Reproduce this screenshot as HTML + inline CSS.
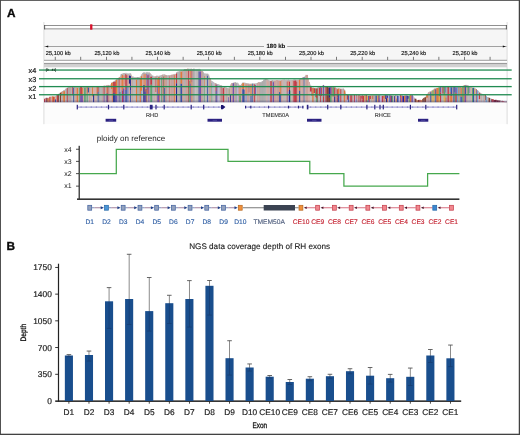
<!DOCTYPE html>
<html lang="en"><head><meta charset="utf-8"><title>Figure</title>
<style>html,body{margin:0;padding:0;background:#fff;}svg{display:block;will-change:transform;}text{font-family:"Liberation Sans",sans-serif;text-rendering:geometricPrecision;}</style></head><body>
<svg width="520" height="435" viewBox="0 0 520 435">
<rect x="0" y="0" width="520" height="435" fill="#ffffff"/>
<rect x="44.0" y="29" width="463.0" height="31" fill="#f6f6f6"/>
<rect x="44.0" y="102.4" width="463.0" height="21.8" fill="#fcfcfc"/>
<rect x="43.4" y="22" width="1" height="102.2" fill="#dcdcdc"/>
<rect x="506.6" y="22" width="1" height="102.2" fill="#dcdcdc"/>
<rect x="44.2" y="25" width="462.6" height="4.2" fill="#ffffff"/>
<rect x="44.2" y="25.05" width="462.6" height="0.85" fill="#7c7c7c"/>
<rect x="44.2" y="28.3" width="462.6" height="1.1" fill="#9a9a9a"/>
<rect x="44.2" y="25.05" width="0.9" height="4.3" fill="#4a4a4a"/>
<rect x="505.9" y="25.05" width="0.9" height="4.3" fill="#4a4a4a"/>
<rect x="90.1" y="24.3" width="2.3" height="5.4" fill="#d8102a"/>
<rect x="44.5" y="46.15" width="462.0" height="0.6" fill="#6a6a6a"/>
<path d="M45.3 46.45 l2.9 -1 v2z" fill="#111"/>
<path d="M505.7 46.45 l-2.9 -1 v2z" fill="#111"/>
<rect x="264" y="43" width="23.2" height="7" fill="#f6f6f6"/>
<text x="275.8" y="48.1" font-size="6" font-weight="bold" text-anchor="middle" fill="#111" stroke="#111" stroke-width="0.1">180 kb</text>
<rect x="54.85" y="56.8" width="0.7" height="3.2" fill="#444"/>
<rect x="80.43" y="56.8" width="0.7" height="3.2" fill="#444"/>
<rect x="106.01" y="56.8" width="0.7" height="3.2" fill="#444"/>
<rect x="131.59" y="56.8" width="0.7" height="3.2" fill="#444"/>
<rect x="157.17" y="56.8" width="0.7" height="3.2" fill="#444"/>
<rect x="182.75" y="56.8" width="0.7" height="3.2" fill="#444"/>
<rect x="208.33" y="56.8" width="0.7" height="3.2" fill="#444"/>
<rect x="233.91" y="56.8" width="0.7" height="3.2" fill="#444"/>
<rect x="259.49" y="56.8" width="0.7" height="3.2" fill="#444"/>
<rect x="285.07" y="56.8" width="0.7" height="3.2" fill="#444"/>
<rect x="310.65" y="56.8" width="0.7" height="3.2" fill="#444"/>
<rect x="336.23" y="56.8" width="0.7" height="3.2" fill="#444"/>
<rect x="361.81" y="56.8" width="0.7" height="3.2" fill="#444"/>
<rect x="387.39" y="56.8" width="0.7" height="3.2" fill="#444"/>
<rect x="412.97" y="56.8" width="0.7" height="3.2" fill="#444"/>
<rect x="438.55" y="56.8" width="0.7" height="3.2" fill="#444"/>
<rect x="464.13" y="56.8" width="0.7" height="3.2" fill="#444"/>
<rect x="489.71" y="56.8" width="0.7" height="3.2" fill="#444"/>
<text x="45.8" y="54.7" font-size="5.7" fill="#1a1a1a" stroke="#1a1a1a" stroke-width="0.16">25,100 kb</text>
<text x="94.4" y="54.7" font-size="5.7" fill="#1a1a1a" stroke="#1a1a1a" stroke-width="0.16">25,120 kb</text>
<text x="145.5" y="54.7" font-size="5.7" fill="#1a1a1a" stroke="#1a1a1a" stroke-width="0.16">25,140 kb</text>
<text x="196.7" y="54.7" font-size="5.7" fill="#1a1a1a" stroke="#1a1a1a" stroke-width="0.16">25,160 kb</text>
<text x="247.8" y="54.7" font-size="5.7" fill="#1a1a1a" stroke="#1a1a1a" stroke-width="0.16">25,180 kb</text>
<text x="299.0" y="54.7" font-size="5.7" fill="#1a1a1a" stroke="#1a1a1a" stroke-width="0.16">25,200 kb</text>
<text x="350.2" y="54.7" font-size="5.7" fill="#1a1a1a" stroke="#1a1a1a" stroke-width="0.16">25,220 kb</text>
<text x="401.3" y="54.7" font-size="5.7" fill="#1a1a1a" stroke="#1a1a1a" stroke-width="0.16">25,240 kb</text>
<text x="452.5" y="54.7" font-size="5.7" fill="#1a1a1a" stroke="#1a1a1a" stroke-width="0.16">25,260 kb</text>
<rect x="44.0" y="59.85" width="463.0" height="1" fill="#7c7c7c"/>
<rect x="44.0" y="60.7" width="463.0" height="2.2" fill="#ffffff"/>
<rect x="44.0" y="62.9" width="463.0" height="1.6" fill="#9c9c9c"/>
<rect x="44.0" y="64.5" width="463.0" height="2.8" fill="#d2d2d2"/>
<defs><filter id="cb" x="-2%" y="-10%" width="104%" height="120%"><feGaussianBlur stdDeviation="0.45 0.35"/></filter><clipPath id="cc"><rect x="44.0" y="66" width="463.0" height="36.400000000000006"/></clipPath></defs>
<g clip-path="url(#cc)"><g filter="url(#cb)">
<polygon points="44.0,102.4 44,98.6 48,98.2 50,97 55,96.6 57,95.1 60,92.8 63,91.1 66,88.8 68,87.2 80,86.9 95,86.7 100,86.2 110,85.3 112,82.5 113,82 117,79 120,77.3 121,74.2 124,73 127,73.6 131,73.8 132,76.5 134,77.3 140,77.3 142,74 143,72.8 147,72.4 150,72.8 152,75.5 154,76.7 160,75.6 164,74.6 167,75.5 172,75 175,74.4 177,72.2 179,71.2 183,70.6 184,69.3 190,68.8 195,69.2 200,69.3 201,71 203,71.6 204,73.6 208,74 209,75.6 210,78 211,80.3 214,82.5 216,83.6 220,85 224,86.6 226,87.8 228,88.5 230,87.6 231,83.5 234,82.5 238,82.8 239,85.3 241,85 242,83 246,83.2 250,83.7 256,83.4 258,82.5 262,82.2 263,80.7 265,79.3 266,78.5 267,79.5 270,80.7 280,80.3 290,80 299,80 300,78.6 303,77.6 305,76.4 306,75 307.5,74.8 308,77 309,81.3 310,83.6 311,86.5 312,88 317,88.2 318,87.2 322,86.6 323,84.9 324,85.2 325,87 335,87.2 337,88.6 344,88.9 345,90.5 346,94 347,95.3 370,95.5 390,95.6 400,95.7 413,95.7 414,97.5 416,99.6 419,100.4 422,100 423,98.5 425,97.3 427,95 428,92.8 431,91 433,90.2 434,88.8 437,88 440,87 447,86.5 455,86.6 462,86.8 464,85.4 466,84.8 468,85.6 470,86.6 472,87.6 475,88.5 477,90 479,91.5 480,92.8 482,94 485,94.8 486,96.5 488,97.2 490,98.6 493,99.2 495,100 499,100.2 501,100.9 503,101.4 507,101.9 507.0,102.4" fill="#b9b5b5"/>
<rect x="44.0" y="98.9" width="1.05" height="3.5" fill="#c53a44"/>
<rect x="45.0" y="98.2" width="0.75" height="4.2" fill="#c0bbba"/>
<rect x="45.7" y="97.8" width="0.85" height="4.6" fill="#c53a44"/>
<rect x="46.5" y="97.8" width="1.05" height="4.6" fill="#7c2336"/>
<rect x="47.5" y="98.5" width="1.25" height="3.9" fill="#e17a3c"/>
<rect x="48.7" y="97.6" width="0.75" height="4.8" fill="#e17a3c"/>
<rect x="49.4" y="96.7" width="1.25" height="5.7" fill="#c53a44"/>
<rect x="50.6" y="96.5" width="1.45" height="5.9" fill="#d0a8a2"/>
<rect x="52.0" y="96.3" width="1.25" height="6.1" fill="#e17a3c"/>
<rect x="53.2" y="96.6" width="1.05" height="5.8" fill="#c53a44"/>
<rect x="54.2" y="96.8" width="0.85" height="5.6" fill="#e17a3c"/>
<rect x="55.0" y="96.4" width="1.05" height="3.0" fill="#dcaea6"/>
<rect x="55.0" y="99.4" width="1.05" height="3.0" fill="#3c52a6"/>
<rect x="56.0" y="96.0" width="0.75" height="6.4" fill="#c0bbba"/>
<rect x="56.7" y="95.1" width="1.25" height="7.3" fill="#c53a44"/>
<rect x="57.9" y="94.0" width="1.05" height="8.4" fill="#85402e"/>
<rect x="58.9" y="93.4" width="1.05" height="9.0" fill="#c4c0c0"/>
<rect x="59.9" y="92.5" width="1.45" height="0.4" fill="#adaaab"/>
<rect x="59.9" y="92.9" width="1.45" height="9.5" fill="#85402e"/>
<rect x="61.3" y="91.6" width="1.05" height="0.5" fill="#c4c0c0"/>
<rect x="61.3" y="92.0" width="1.05" height="3.4" fill="#e17a3c"/>
<rect x="61.3" y="95.5" width="1.05" height="6.9" fill="#c6c2c2"/>
<rect x="62.3" y="91.0" width="1.05" height="11.4" fill="#c69e9b"/>
<rect x="63.3" y="90.2" width="1.75" height="1.0" fill="#b7b4b4"/>
<rect x="63.3" y="91.2" width="1.75" height="11.2" fill="#e17a3c"/>
<rect x="65.0" y="88.7" width="0.85" height="13.7" fill="#bdb9b9"/>
<rect x="65.8" y="88.8" width="1.05" height="13.6" fill="#b3b0b0"/>
<rect x="66.8" y="87.7" width="1.05" height="0.3" fill="#c0bbba"/>
<rect x="66.8" y="88.0" width="1.05" height="14.4" fill="#c53a44"/>
<rect x="67.8" y="87.3" width="1.45" height="15.1" fill="#adaaab"/>
<rect x="69.2" y="87.1" width="1.75" height="15.3" fill="#c69e9b"/>
<rect x="70.9" y="86.9" width="1.45" height="15.5" fill="#b7b4b4"/>
<rect x="72.3" y="86.6" width="0.85" height="0.1" fill="#c0bbba"/>
<rect x="72.3" y="86.7" width="0.85" height="8.6" fill="#c53a44"/>
<rect x="72.3" y="95.3" width="0.85" height="7.1" fill="#c6c2c2"/>
<rect x="73.1" y="87.1" width="0.85" height="0.6" fill="#bdb9b9"/>
<rect x="73.1" y="87.7" width="0.85" height="14.7" fill="#3c52a6"/>
<rect x="73.9" y="86.9" width="1.05" height="15.5" fill="#adaaab"/>
<rect x="74.9" y="87.2" width="1.05" height="15.2" fill="#d0a8a2"/>
<rect x="75.9" y="87.4" width="0.85" height="15.0" fill="#d0a8a2"/>
<rect x="76.7" y="86.9" width="1.75" height="0.9" fill="#c4c0c0"/>
<rect x="76.7" y="87.8" width="1.75" height="14.6" fill="#e17a3c"/>
<rect x="78.4" y="86.7" width="0.85" height="15.7" fill="#c0bbba"/>
<rect x="79.2" y="87.0" width="1.05" height="0.8" fill="#b3b0b0"/>
<rect x="79.2" y="87.8" width="1.05" height="14.6" fill="#5fa470"/>
<rect x="80.2" y="86.7" width="1.75" height="0.2" fill="#adaaab"/>
<rect x="80.2" y="86.9" width="1.75" height="8.9" fill="#c53a44"/>
<rect x="80.2" y="95.8" width="1.75" height="6.6" fill="#7752ad"/>
<rect x="81.9" y="86.7" width="1.05" height="1.0" fill="#c4c0c0"/>
<rect x="81.9" y="87.7" width="1.05" height="7.2" fill="#e17a3c"/>
<rect x="81.9" y="95.0" width="1.05" height="7.4" fill="#7752ad"/>
<rect x="82.9" y="87.1" width="1.25" height="15.3" fill="#d0a8a2"/>
<rect x="84.1" y="86.9" width="1.75" height="0.8" fill="#b7b4b4"/>
<rect x="84.1" y="87.7" width="1.75" height="14.7" fill="#5fa470"/>
<rect x="85.8" y="87.0" width="1.05" height="15.4" fill="#adaaab"/>
<rect x="86.8" y="86.7" width="1.05" height="0.1" fill="#b3b0b0"/>
<rect x="86.8" y="86.8" width="1.05" height="8.5" fill="#e17a3c"/>
<rect x="86.8" y="95.3" width="1.05" height="7.1" fill="#5fa470"/>
<rect x="87.8" y="87.2" width="1.25" height="0.4" fill="#b3b0b0"/>
<rect x="87.8" y="87.6" width="1.25" height="5.1" fill="#3c52a6"/>
<rect x="87.8" y="92.6" width="1.25" height="9.8" fill="#bdb9b9"/>
<rect x="89.0" y="87.2" width="1.45" height="15.2" fill="#cd9f98"/>
<rect x="90.4" y="86.4" width="0.75" height="16.0" fill="#c0bbba"/>
<rect x="91.1" y="86.4" width="1.05" height="16.0" fill="#d4b0ab"/>
<rect x="92.1" y="86.8" width="1.05" height="0.5" fill="#c0bbba"/>
<rect x="92.1" y="87.3" width="1.05" height="9.2" fill="#e17a3c"/>
<rect x="92.1" y="96.5" width="1.05" height="5.9" fill="#c6c2c2"/>
<rect x="93.1" y="86.1" width="1.25" height="0.2" fill="#adaaab"/>
<rect x="93.1" y="86.3" width="1.25" height="7.9" fill="#dcaea6"/>
<rect x="93.1" y="94.2" width="1.25" height="8.2" fill="#27288f"/>
<rect x="94.3" y="86.2" width="1.75" height="16.2" fill="#d4b0ab"/>
<rect x="96.0" y="86.8" width="0.75" height="15.6" fill="#d0a8a2"/>
<rect x="96.7" y="86.2" width="1.05" height="0.6" fill="#c4c0c0"/>
<rect x="96.7" y="86.8" width="1.05" height="9.0" fill="#e17a3c"/>
<rect x="96.7" y="95.9" width="1.05" height="6.5" fill="#c6c2c2"/>
<rect x="97.7" y="86.7" width="1.05" height="0.2" fill="#b7b4b4"/>
<rect x="97.7" y="87.0" width="1.05" height="5.1" fill="#c53a44"/>
<rect x="97.7" y="92.0" width="1.05" height="10.4" fill="#3c52a6"/>
<rect x="98.7" y="86.0" width="1.45" height="16.4" fill="#adaaab"/>
<rect x="100.1" y="86.2" width="1.45" height="16.2" fill="#b7b4b4"/>
<rect x="101.5" y="86.2" width="0.85" height="16.2" fill="#b3b0b0"/>
<rect x="102.3" y="86.2" width="1.45" height="16.2" fill="#c69e9b"/>
<rect x="103.7" y="85.7" width="1.05" height="0.1" fill="#c4c0c0"/>
<rect x="103.7" y="85.8" width="1.05" height="9.1" fill="#c53a44"/>
<rect x="103.7" y="94.9" width="1.05" height="7.5" fill="#7752ad"/>
<rect x="104.7" y="86.1" width="1.25" height="16.3" fill="#b3b0b0"/>
<rect x="105.9" y="85.1" width="0.75" height="17.3" fill="#cd9f98"/>
<rect x="106.6" y="85.8" width="1.05" height="0.8" fill="#c4c0c0"/>
<rect x="106.6" y="86.6" width="1.05" height="6.8" fill="#e17a3c"/>
<rect x="106.6" y="93.4" width="1.05" height="9.0" fill="#27288f"/>
<rect x="107.6" y="84.9" width="1.05" height="0.4" fill="#bdb9b9"/>
<rect x="107.6" y="85.4" width="1.05" height="11.0" fill="#c53a44"/>
<rect x="107.6" y="96.3" width="1.05" height="6.1" fill="#c53a44"/>
<rect x="108.6" y="85.1" width="0.75" height="17.3" fill="#c0bbba"/>
<rect x="109.3" y="85.7" width="1.05" height="16.7" fill="#cd9f98"/>
<rect x="110.3" y="84.8" width="0.75" height="17.6" fill="#d4b0ab"/>
<rect x="111.0" y="82.6" width="1.45" height="0.3" fill="#b3b0b0"/>
<rect x="111.0" y="82.9" width="1.45" height="6.1" fill="#e17a3c"/>
<rect x="111.0" y="89.1" width="1.45" height="13.3" fill="#d0a8a2"/>
<rect x="112.4" y="82.3" width="0.75" height="0.2" fill="#b7b4b4"/>
<rect x="112.4" y="82.5" width="0.75" height="9.9" fill="#e17a3c"/>
<rect x="112.4" y="92.4" width="0.75" height="10.0" fill="#e17a3c"/>
<rect x="113.1" y="81.6" width="1.75" height="0.3" fill="#b3b0b0"/>
<rect x="113.1" y="81.9" width="1.75" height="11.3" fill="#c53a44"/>
<rect x="113.1" y="93.3" width="1.75" height="9.1" fill="#27288f"/>
<rect x="114.8" y="80.7" width="1.05" height="0.8" fill="#adaaab"/>
<rect x="114.8" y="81.6" width="1.05" height="13.3" fill="#c53a44"/>
<rect x="114.8" y="94.8" width="1.05" height="7.6" fill="#3c52a6"/>
<rect x="115.8" y="79.2" width="1.75" height="0.6" fill="#bdb9b9"/>
<rect x="115.8" y="79.8" width="1.75" height="15.5" fill="#e17a3c"/>
<rect x="115.8" y="95.3" width="1.75" height="7.1" fill="#7752ad"/>
<rect x="117.5" y="78.1" width="1.25" height="24.3" fill="#b3b0b0"/>
<rect x="118.7" y="77.3" width="1.05" height="0.1" fill="#adaaab"/>
<rect x="118.7" y="77.4" width="1.05" height="8.4" fill="#c53a44"/>
<rect x="118.7" y="85.8" width="1.05" height="16.6" fill="#7752ad"/>
<rect x="119.7" y="76.7" width="1.05" height="0.3" fill="#bdb9b9"/>
<rect x="119.7" y="77.0" width="1.05" height="14.9" fill="#dcaea6"/>
<rect x="119.7" y="91.9" width="1.05" height="10.5" fill="#5fa470"/>
<rect x="120.7" y="73.9" width="1.25" height="2.6" fill="#adaaab"/>
<rect x="120.7" y="76.5" width="1.25" height="13.1" fill="#e0927a"/>
<rect x="120.7" y="89.6" width="1.25" height="12.8" fill="#9aa0c8"/>
<rect x="121.9" y="73.8" width="1.05" height="1.1" fill="#c0bbba"/>
<rect x="121.9" y="74.9" width="1.05" height="15.8" fill="#e17a3c"/>
<rect x="121.9" y="90.7" width="1.05" height="11.7" fill="#c53a44"/>
<rect x="122.9" y="73.4" width="1.75" height="2.0" fill="#bdb9b9"/>
<rect x="122.9" y="75.5" width="1.75" height="12.9" fill="#e0927a"/>
<rect x="122.9" y="88.4" width="1.75" height="14.0" fill="#7752ad"/>
<rect x="124.6" y="73.2" width="0.75" height="2.0" fill="#bdb9b9"/>
<rect x="124.6" y="75.3" width="0.75" height="9.1" fill="#e0927a"/>
<rect x="124.6" y="84.4" width="0.75" height="18.0" fill="#c6c2c2"/>
<rect x="125.3" y="72.8" width="1.25" height="1.3" fill="#c4c0c0"/>
<rect x="125.3" y="74.1" width="1.25" height="15.8" fill="#c53a44"/>
<rect x="125.3" y="89.9" width="1.25" height="12.5" fill="#3c52a6"/>
<rect x="126.5" y="73.5" width="1.05" height="1.7" fill="#bdb9b9"/>
<rect x="126.5" y="75.2" width="1.05" height="10.9" fill="#c53a44"/>
<rect x="126.5" y="86.1" width="1.05" height="16.3" fill="#3c52a6"/>
<rect x="127.5" y="73.8" width="1.45" height="1.0" fill="#b7b4b4"/>
<rect x="127.5" y="74.8" width="1.45" height="11.5" fill="#dcaea6"/>
<rect x="127.5" y="86.3" width="1.45" height="16.1" fill="#9aa0c8"/>
<rect x="128.9" y="73.4" width="1.25" height="2.2" fill="#c0bbba"/>
<rect x="128.9" y="75.6" width="1.25" height="8.2" fill="#27288f"/>
<rect x="128.9" y="83.8" width="1.25" height="18.6" fill="#d0a8a2"/>
<rect x="130.1" y="73.3" width="1.05" height="2.6" fill="#b7b4b4"/>
<rect x="130.1" y="75.9" width="1.05" height="14.1" fill="#27288f"/>
<rect x="130.1" y="90.0" width="1.05" height="12.4" fill="#3c52a6"/>
<rect x="131.1" y="75.3" width="0.85" height="27.1" fill="#d4b0ab"/>
<rect x="131.9" y="76.7" width="0.75" height="25.7" fill="#c69e9b"/>
<rect x="132.6" y="76.4" width="1.05" height="26.0" fill="#b7b4b4"/>
<rect x="133.6" y="77.0" width="1.05" height="25.4" fill="#c4c0c0"/>
<rect x="134.6" y="77.6" width="0.75" height="24.8" fill="#b7b4b4"/>
<rect x="135.3" y="77.7" width="0.75" height="24.7" fill="#d4b0ab"/>
<rect x="136.0" y="77.1" width="1.05" height="2.6" fill="#c4c0c0"/>
<rect x="136.0" y="79.7" width="1.05" height="22.7" fill="#e17a3c"/>
<rect x="137.0" y="77.0" width="1.75" height="25.4" fill="#adaaab"/>
<rect x="138.7" y="77.4" width="1.05" height="25.0" fill="#b7b4b4"/>
<rect x="139.7" y="76.5" width="1.25" height="2.2" fill="#bdb9b9"/>
<rect x="139.7" y="78.7" width="1.25" height="23.7" fill="#e17a3c"/>
<rect x="140.9" y="74.5" width="1.45" height="1.8" fill="#bdb9b9"/>
<rect x="140.9" y="76.3" width="1.45" height="14.6" fill="#e17a3c"/>
<rect x="140.9" y="90.8" width="1.45" height="11.6" fill="#9aa0c8"/>
<rect x="142.3" y="72.9" width="1.05" height="1.8" fill="#b7b4b4"/>
<rect x="142.3" y="74.7" width="1.05" height="11.2" fill="#dcaea6"/>
<rect x="142.3" y="85.9" width="1.05" height="16.5" fill="#c6c2c2"/>
<rect x="143.3" y="72.4" width="1.45" height="2.0" fill="#adaaab"/>
<rect x="143.3" y="74.4" width="1.45" height="10.9" fill="#e0927a"/>
<rect x="143.3" y="85.2" width="1.45" height="17.2" fill="#27288f"/>
<rect x="144.7" y="73.0" width="1.05" height="1.1" fill="#bdb9b9"/>
<rect x="144.7" y="74.1" width="1.05" height="17.7" fill="#e17a3c"/>
<rect x="144.7" y="91.7" width="1.05" height="10.7" fill="#7752ad"/>
<rect x="145.7" y="72.8" width="0.85" height="1.5" fill="#c0bbba"/>
<rect x="145.7" y="74.4" width="0.85" height="14.9" fill="#dcaea6"/>
<rect x="145.7" y="89.2" width="0.85" height="13.2" fill="#27288f"/>
<rect x="146.5" y="71.9" width="1.05" height="1.9" fill="#b3b0b0"/>
<rect x="146.5" y="73.9" width="1.05" height="15.9" fill="#7752ad"/>
<rect x="146.5" y="89.8" width="1.05" height="12.6" fill="#e17a3c"/>
<rect x="147.5" y="72.9" width="1.05" height="2.4" fill="#bdb9b9"/>
<rect x="147.5" y="75.3" width="1.05" height="18.6" fill="#c53a44"/>
<rect x="147.5" y="93.9" width="1.05" height="8.5" fill="#bdb9b9"/>
<rect x="148.5" y="72.1" width="1.05" height="2.5" fill="#b7b4b4"/>
<rect x="148.5" y="74.5" width="1.05" height="27.9" fill="#7752ad"/>
<rect x="149.5" y="73.0" width="0.85" height="29.4" fill="#d0a8a2"/>
<rect x="150.3" y="74.5" width="1.75" height="2.2" fill="#c0bbba"/>
<rect x="150.3" y="76.7" width="1.75" height="8.1" fill="#c53a44"/>
<rect x="150.3" y="84.8" width="1.75" height="17.6" fill="#5fa470"/>
<rect x="152.0" y="75.6" width="1.45" height="26.8" fill="#adaaab"/>
<rect x="153.4" y="76.8" width="1.05" height="25.6" fill="#c0bbba"/>
<rect x="154.4" y="76.1" width="1.25" height="26.3" fill="#d0a8a2"/>
<rect x="155.6" y="76.3" width="0.75" height="1.3" fill="#b3b0b0"/>
<rect x="155.6" y="77.6" width="0.75" height="14.4" fill="#c53a44"/>
<rect x="155.6" y="92.0" width="0.75" height="10.4" fill="#c6c2c2"/>
<rect x="156.3" y="75.6" width="1.05" height="26.8" fill="#c69e9b"/>
<rect x="157.3" y="75.7" width="0.75" height="2.5" fill="#bdb9b9"/>
<rect x="157.3" y="78.2" width="0.75" height="7.3" fill="#e17a3c"/>
<rect x="157.3" y="85.5" width="0.75" height="16.9" fill="#7752ad"/>
<rect x="158.0" y="76.1" width="1.05" height="1.2" fill="#c4c0c0"/>
<rect x="158.0" y="77.2" width="1.05" height="16.5" fill="#e17a3c"/>
<rect x="158.0" y="93.7" width="1.05" height="8.7" fill="#7752ad"/>
<rect x="159.0" y="76.1" width="0.75" height="1.1" fill="#b7b4b4"/>
<rect x="159.0" y="77.3" width="0.75" height="25.1" fill="#c53a44"/>
<rect x="159.7" y="76.0" width="0.75" height="26.4" fill="#b3b0b0"/>
<rect x="160.4" y="75.8" width="0.75" height="26.6" fill="#bdb9b9"/>
<rect x="161.1" y="75.0" width="0.85" height="2.4" fill="#bdb9b9"/>
<rect x="161.1" y="77.4" width="0.85" height="25.0" fill="#5fa470"/>
<rect x="161.9" y="74.6" width="1.05" height="27.8" fill="#c69e9b"/>
<rect x="162.9" y="74.5" width="0.75" height="2.3" fill="#b7b4b4"/>
<rect x="162.9" y="76.8" width="0.75" height="17.4" fill="#c53a44"/>
<rect x="162.9" y="94.3" width="0.75" height="8.1" fill="#7752ad"/>
<rect x="163.6" y="74.6" width="0.75" height="1.5" fill="#c4c0c0"/>
<rect x="163.6" y="76.1" width="0.75" height="26.3" fill="#5fa470"/>
<rect x="164.3" y="74.3" width="1.05" height="1.2" fill="#b7b4b4"/>
<rect x="164.3" y="75.5" width="1.05" height="12.5" fill="#e0927a"/>
<rect x="164.3" y="88.0" width="1.05" height="14.4" fill="#3c52a6"/>
<rect x="165.3" y="75.3" width="1.75" height="27.1" fill="#c69e9b"/>
<rect x="167.0" y="75.7" width="0.75" height="26.7" fill="#bdb9b9"/>
<rect x="167.7" y="75.1" width="1.25" height="27.3" fill="#c0bbba"/>
<rect x="168.9" y="75.0" width="0.75" height="1.4" fill="#bdb9b9"/>
<rect x="168.9" y="76.3" width="0.75" height="26.1" fill="#c53a44"/>
<rect x="169.6" y="75.5" width="1.25" height="26.9" fill="#d0a8a2"/>
<rect x="170.8" y="74.7" width="1.75" height="27.7" fill="#c69e9b"/>
<rect x="172.5" y="74.4" width="1.75" height="28.0" fill="#c69e9b"/>
<rect x="174.2" y="73.9" width="0.85" height="1.3" fill="#b3b0b0"/>
<rect x="174.2" y="75.2" width="0.85" height="27.2" fill="#e17a3c"/>
<rect x="175.0" y="74.2" width="1.05" height="28.2" fill="#d0a8a2"/>
<rect x="176.0" y="72.2" width="1.25" height="1.2" fill="#bdb9b9"/>
<rect x="176.0" y="73.5" width="1.25" height="9.9" fill="#c53a44"/>
<rect x="176.0" y="83.4" width="1.25" height="19.0" fill="#27288f"/>
<rect x="177.2" y="71.6" width="0.75" height="30.8" fill="#b7b4b4"/>
<rect x="177.9" y="71.8" width="1.45" height="30.6" fill="#b7b4b4"/>
<rect x="179.3" y="71.4" width="1.25" height="31.0" fill="#adaaab"/>
<rect x="180.5" y="70.4" width="1.75" height="1.3" fill="#c4c0c0"/>
<rect x="180.5" y="71.7" width="1.75" height="12.1" fill="#e17a3c"/>
<rect x="180.5" y="83.8" width="1.75" height="18.6" fill="#3c52a6"/>
<rect x="182.2" y="71.0" width="1.05" height="31.4" fill="#c69e9b"/>
<rect x="183.2" y="70.1" width="1.05" height="32.3" fill="#d0a8a2"/>
<rect x="184.2" y="69.1" width="1.45" height="33.3" fill="#b3b0b0"/>
<rect x="185.6" y="69.0" width="1.75" height="33.4" fill="#cd9f98"/>
<rect x="187.3" y="68.4" width="0.75" height="34.0" fill="#cd9f98"/>
<rect x="188.0" y="68.7" width="0.75" height="1.6" fill="#adaaab"/>
<rect x="188.0" y="70.3" width="0.75" height="32.1" fill="#c53a44"/>
<rect x="188.7" y="68.9" width="0.75" height="1.4" fill="#c4c0c0"/>
<rect x="188.7" y="70.4" width="0.75" height="18.0" fill="#c53a44"/>
<rect x="188.7" y="88.3" width="0.75" height="14.1" fill="#5fa470"/>
<rect x="189.4" y="69.1" width="0.85" height="1.5" fill="#c0bbba"/>
<rect x="189.4" y="70.6" width="0.85" height="10.3" fill="#dcaea6"/>
<rect x="189.4" y="81.0" width="0.85" height="21.4" fill="#5fa470"/>
<rect x="190.2" y="69.1" width="0.75" height="1.1" fill="#adaaab"/>
<rect x="190.2" y="70.2" width="0.75" height="13.6" fill="#e17a3c"/>
<rect x="190.2" y="83.8" width="0.75" height="18.6" fill="#7752ad"/>
<rect x="190.9" y="68.6" width="0.75" height="33.8" fill="#c69e9b"/>
<rect x="191.6" y="69.3" width="0.75" height="1.5" fill="#adaaab"/>
<rect x="191.6" y="70.7" width="0.75" height="11.5" fill="#c53a44"/>
<rect x="191.6" y="82.2" width="0.75" height="20.2" fill="#e17a3c"/>
<rect x="192.3" y="69.3" width="0.75" height="33.1" fill="#c69e9b"/>
<rect x="193.0" y="68.7" width="1.75" height="33.7" fill="#adaaab"/>
<rect x="194.7" y="69.6" width="1.75" height="32.8" fill="#c4c0c0"/>
<rect x="196.4" y="69.2" width="1.45" height="33.2" fill="#c0bbba"/>
<rect x="197.8" y="69.6" width="0.85" height="32.8" fill="#b3b0b0"/>
<rect x="198.6" y="68.8" width="1.05" height="2.6" fill="#bdb9b9"/>
<rect x="198.6" y="71.4" width="1.05" height="31.0" fill="#3c52a6"/>
<rect x="199.6" y="69.6" width="1.45" height="1.9" fill="#b3b0b0"/>
<rect x="199.6" y="71.5" width="1.45" height="30.9" fill="#7752ad"/>
<rect x="201.0" y="70.9" width="1.75" height="31.5" fill="#c69e9b"/>
<rect x="202.7" y="71.8" width="0.85" height="30.6" fill="#b3b0b0"/>
<rect x="203.5" y="73.4" width="1.05" height="29.0" fill="#b3b0b0"/>
<rect x="204.5" y="74.0" width="0.75" height="2.0" fill="#c4c0c0"/>
<rect x="204.5" y="76.0" width="0.75" height="11.1" fill="#e17a3c"/>
<rect x="204.5" y="87.2" width="0.75" height="15.2" fill="#5fa470"/>
<rect x="205.2" y="73.5" width="1.05" height="28.9" fill="#c4c0c0"/>
<rect x="206.2" y="73.8" width="1.05" height="28.6" fill="#b7b4b4"/>
<rect x="207.2" y="73.6" width="1.05" height="2.2" fill="#b3b0b0"/>
<rect x="207.2" y="75.8" width="1.05" height="26.6" fill="#3c52a6"/>
<rect x="208.2" y="74.6" width="1.05" height="27.8" fill="#bdb9b9"/>
<rect x="209.2" y="78.0" width="1.75" height="24.4" fill="#cd9f98"/>
<rect x="210.9" y="80.9" width="0.75" height="21.5" fill="#bdb9b9"/>
<rect x="211.6" y="81.2" width="0.75" height="2.0" fill="#bdb9b9"/>
<rect x="211.6" y="83.2" width="0.75" height="19.2" fill="#5fa470"/>
<rect x="212.3" y="81.9" width="1.25" height="0.7" fill="#b7b4b4"/>
<rect x="212.3" y="82.5" width="1.25" height="11.4" fill="#c3b6e0"/>
<rect x="212.3" y="93.9" width="1.25" height="8.5" fill="#bdb9b9"/>
<rect x="213.5" y="83.0" width="1.45" height="19.4" fill="#c4c0c0"/>
<rect x="214.9" y="83.0" width="0.85" height="19.4" fill="#c69e9b"/>
<rect x="215.7" y="83.3" width="0.85" height="1.1" fill="#c0bbba"/>
<rect x="215.7" y="84.4" width="0.85" height="6.6" fill="#c53a44"/>
<rect x="215.7" y="90.9" width="0.85" height="11.5" fill="#3c52a6"/>
<rect x="216.5" y="84.1" width="1.05" height="0.6" fill="#bdb9b9"/>
<rect x="216.5" y="84.7" width="1.05" height="17.7" fill="#7752ad"/>
<rect x="217.5" y="84.3" width="0.75" height="18.1" fill="#c0bbba"/>
<rect x="218.2" y="84.6" width="1.25" height="0.5" fill="#adaaab"/>
<rect x="218.2" y="85.1" width="1.25" height="17.3" fill="#c3b6e0"/>
<rect x="219.4" y="85.3" width="1.45" height="17.1" fill="#c0bbba"/>
<rect x="220.8" y="85.3" width="0.85" height="1.0" fill="#adaaab"/>
<rect x="220.8" y="86.3" width="0.85" height="16.1" fill="#c53a44"/>
<rect x="221.6" y="86.1" width="1.05" height="16.3" fill="#c0bbba"/>
<rect x="222.6" y="86.7" width="1.45" height="1.4" fill="#c4c0c0"/>
<rect x="222.6" y="88.1" width="1.45" height="14.3" fill="#c53a44"/>
<rect x="224.0" y="86.7" width="1.05" height="15.7" fill="#c69e9b"/>
<rect x="225.0" y="87.5" width="0.85" height="14.9" fill="#c0bbba"/>
<rect x="225.8" y="87.6" width="1.05" height="14.8" fill="#c69e9b"/>
<rect x="226.8" y="88.0" width="1.25" height="14.4" fill="#b7b4b4"/>
<rect x="228.0" y="87.9" width="0.85" height="0.7" fill="#bdb9b9"/>
<rect x="228.0" y="88.6" width="0.85" height="8.6" fill="#dcaea6"/>
<rect x="228.0" y="97.2" width="0.85" height="5.2" fill="#7752ad"/>
<rect x="228.8" y="87.4" width="0.75" height="1.6" fill="#c0bbba"/>
<rect x="228.8" y="89.1" width="0.75" height="5.3" fill="#5fa470"/>
<rect x="228.8" y="94.4" width="0.75" height="8.0" fill="#bdb9b9"/>
<rect x="229.5" y="87.1" width="0.75" height="15.3" fill="#cd9f98"/>
<rect x="230.2" y="84.6" width="0.85" height="0.4" fill="#b3b0b0"/>
<rect x="230.2" y="85.0" width="0.85" height="9.7" fill="#dcaea6"/>
<rect x="230.2" y="94.7" width="0.85" height="7.7" fill="#27288f"/>
<rect x="231.0" y="83.3" width="1.75" height="19.1" fill="#d0a8a2"/>
<rect x="232.7" y="82.9" width="1.45" height="0.4" fill="#adaaab"/>
<rect x="232.7" y="83.3" width="1.45" height="19.1" fill="#7752ad"/>
<rect x="234.1" y="82.7" width="0.75" height="19.7" fill="#d0a8a2"/>
<rect x="234.8" y="82.2" width="1.05" height="20.2" fill="#adaaab"/>
<rect x="235.8" y="83.1" width="1.45" height="19.3" fill="#adaaab"/>
<rect x="237.2" y="82.9" width="1.25" height="1.7" fill="#c4c0c0"/>
<rect x="237.2" y="84.6" width="1.25" height="17.8" fill="#c3b6e0"/>
<rect x="238.4" y="84.3" width="0.85" height="18.1" fill="#cd9f98"/>
<rect x="239.2" y="85.3" width="1.75" height="1.4" fill="#b7b4b4"/>
<rect x="239.2" y="86.8" width="1.75" height="9.0" fill="#e0927a"/>
<rect x="239.2" y="95.8" width="1.75" height="6.6" fill="#5fa470"/>
<rect x="240.9" y="84.1" width="1.45" height="18.3" fill="#d0a8a2"/>
<rect x="242.3" y="82.5" width="1.75" height="0.7" fill="#b3b0b0"/>
<rect x="242.3" y="83.2" width="1.75" height="6.0" fill="#e17a3c"/>
<rect x="242.3" y="89.2" width="1.75" height="13.2" fill="#3c52a6"/>
<rect x="244.0" y="82.6" width="0.75" height="0.9" fill="#bdb9b9"/>
<rect x="244.0" y="83.5" width="0.75" height="6.2" fill="#dcaea6"/>
<rect x="244.0" y="89.7" width="0.75" height="12.7" fill="#3c52a6"/>
<rect x="244.7" y="82.6" width="0.75" height="19.8" fill="#d0a8a2"/>
<rect x="245.4" y="83.4" width="1.75" height="0.9" fill="#b3b0b0"/>
<rect x="245.4" y="84.4" width="1.75" height="10.0" fill="#e0927a"/>
<rect x="245.4" y="94.3" width="1.75" height="8.1" fill="#9aa0c8"/>
<rect x="247.1" y="83.6" width="1.75" height="18.8" fill="#cd9f98"/>
<rect x="248.8" y="83.8" width="0.75" height="0.8" fill="#c4c0c0"/>
<rect x="248.8" y="84.6" width="0.75" height="7.9" fill="#c53a44"/>
<rect x="248.8" y="92.6" width="0.75" height="9.8" fill="#9aa0c8"/>
<rect x="249.5" y="83.9" width="1.05" height="18.5" fill="#d4b0ab"/>
<rect x="250.5" y="83.8" width="1.25" height="0.4" fill="#bdb9b9"/>
<rect x="250.5" y="84.3" width="1.25" height="11.7" fill="#e17a3c"/>
<rect x="250.5" y="96.0" width="1.25" height="6.4" fill="#3c52a6"/>
<rect x="251.7" y="83.6" width="0.75" height="18.8" fill="#c0bbba"/>
<rect x="252.4" y="83.3" width="0.85" height="0.5" fill="#bdb9b9"/>
<rect x="252.4" y="83.7" width="0.85" height="9.3" fill="#3c52a6"/>
<rect x="252.4" y="93.0" width="0.85" height="9.4" fill="#3c52a6"/>
<rect x="253.2" y="83.9" width="1.05" height="18.5" fill="#cd9f98"/>
<rect x="254.2" y="83.7" width="1.05" height="0.7" fill="#adaaab"/>
<rect x="254.2" y="84.4" width="1.05" height="18.0" fill="#c53a44"/>
<rect x="255.2" y="83.6" width="1.05" height="1.5" fill="#c4c0c0"/>
<rect x="255.2" y="85.1" width="1.05" height="10.3" fill="#7752ad"/>
<rect x="255.2" y="95.5" width="1.05" height="6.9" fill="#d0a8a2"/>
<rect x="256.2" y="83.4" width="1.05" height="19.0" fill="#c4c0c0"/>
<rect x="257.2" y="83.0" width="1.05" height="19.4" fill="#cd9f98"/>
<rect x="258.2" y="82.0" width="1.05" height="20.4" fill="#d0a8a2"/>
<rect x="259.2" y="82.4" width="1.05" height="20.0" fill="#c69e9b"/>
<rect x="260.2" y="82.3" width="1.45" height="20.1" fill="#adaaab"/>
<rect x="261.6" y="81.2" width="1.75" height="21.2" fill="#adaaab"/>
<rect x="263.3" y="79.6" width="1.45" height="22.8" fill="#adaaab"/>
<rect x="264.7" y="79.1" width="1.75" height="23.3" fill="#b3b0b0"/>
<rect x="266.4" y="79.3" width="1.45" height="23.1" fill="#d4b0ab"/>
<rect x="267.8" y="79.7" width="0.85" height="1.8" fill="#adaaab"/>
<rect x="267.8" y="81.4" width="0.85" height="12.4" fill="#e0927a"/>
<rect x="267.8" y="93.9" width="0.85" height="8.5" fill="#9aa0c8"/>
<rect x="268.6" y="80.0" width="1.05" height="22.4" fill="#c4c0c0"/>
<rect x="269.6" y="81.0" width="0.85" height="21.4" fill="#c69e9b"/>
<rect x="270.4" y="80.3" width="1.45" height="0.8" fill="#c4c0c0"/>
<rect x="270.4" y="81.1" width="1.45" height="21.3" fill="#c53a44"/>
<rect x="271.8" y="80.0" width="1.05" height="22.4" fill="#adaaab"/>
<rect x="272.8" y="80.6" width="1.25" height="1.6" fill="#adaaab"/>
<rect x="272.8" y="82.2" width="1.25" height="20.2" fill="#7752ad"/>
<rect x="274.0" y="80.6" width="1.75" height="21.8" fill="#cd9f98"/>
<rect x="275.7" y="80.0" width="1.45" height="22.4" fill="#d0a8a2"/>
<rect x="277.1" y="80.1" width="1.05" height="22.3" fill="#cd9f98"/>
<rect x="278.1" y="80.6" width="1.05" height="21.8" fill="#c69e9b"/>
<rect x="279.1" y="80.4" width="1.25" height="0.7" fill="#bdb9b9"/>
<rect x="279.1" y="81.1" width="1.25" height="11.0" fill="#e0927a"/>
<rect x="279.1" y="92.1" width="1.25" height="10.3" fill="#3c52a6"/>
<rect x="280.3" y="80.4" width="0.85" height="0.7" fill="#c0bbba"/>
<rect x="280.3" y="81.1" width="0.85" height="13.1" fill="#e17a3c"/>
<rect x="280.3" y="94.2" width="0.85" height="8.2" fill="#3c52a6"/>
<rect x="281.1" y="80.2" width="1.05" height="22.2" fill="#cd9f98"/>
<rect x="282.1" y="79.8" width="1.45" height="22.6" fill="#d4b0ab"/>
<rect x="283.5" y="79.6" width="1.45" height="22.8" fill="#bdb9b9"/>
<rect x="284.9" y="80.0" width="0.75" height="22.4" fill="#d4b0ab"/>
<rect x="285.6" y="79.8" width="1.25" height="22.6" fill="#c0bbba"/>
<rect x="286.8" y="80.5" width="0.85" height="1.0" fill="#bdb9b9"/>
<rect x="286.8" y="81.6" width="0.85" height="20.8" fill="#c53a44"/>
<rect x="287.6" y="79.7" width="1.45" height="1.4" fill="#b3b0b0"/>
<rect x="287.6" y="81.1" width="1.45" height="10.4" fill="#e0927a"/>
<rect x="287.6" y="91.5" width="1.45" height="10.9" fill="#9aa0c8"/>
<rect x="289.0" y="80.2" width="1.05" height="1.5" fill="#b3b0b0"/>
<rect x="289.0" y="81.7" width="1.05" height="7.7" fill="#c53a44"/>
<rect x="289.0" y="89.5" width="1.05" height="12.9" fill="#27288f"/>
<rect x="290.0" y="80.2" width="0.75" height="0.9" fill="#c4c0c0"/>
<rect x="290.0" y="81.1" width="0.75" height="9.5" fill="#dcaea6"/>
<rect x="290.0" y="90.6" width="0.75" height="11.8" fill="#5fa470"/>
<rect x="290.7" y="80.3" width="1.05" height="22.1" fill="#c4c0c0"/>
<rect x="291.7" y="80.4" width="1.75" height="22.0" fill="#d0a8a2"/>
<rect x="293.4" y="79.4" width="1.45" height="1.3" fill="#bdb9b9"/>
<rect x="293.4" y="80.7" width="1.45" height="21.7" fill="#c53a44"/>
<rect x="294.8" y="79.6" width="1.75" height="0.9" fill="#b7b4b4"/>
<rect x="294.8" y="80.5" width="1.75" height="21.9" fill="#c53a44"/>
<rect x="296.5" y="80.0" width="0.85" height="1.8" fill="#c0bbba"/>
<rect x="296.5" y="81.8" width="0.85" height="20.6" fill="#c53a44"/>
<rect x="297.3" y="79.7" width="1.75" height="22.7" fill="#d0a8a2"/>
<rect x="299.0" y="79.3" width="1.45" height="0.6" fill="#b7b4b4"/>
<rect x="299.0" y="79.9" width="1.45" height="11.0" fill="#e17a3c"/>
<rect x="299.0" y="90.8" width="1.45" height="11.6" fill="#3c52a6"/>
<rect x="300.4" y="78.5" width="0.85" height="23.9" fill="#d0a8a2"/>
<rect x="301.2" y="78.3" width="0.85" height="24.1" fill="#d4b0ab"/>
<rect x="302.0" y="77.5" width="1.75" height="24.9" fill="#d0a8a2"/>
<rect x="303.7" y="77.0" width="0.85" height="0.0" fill="#adaaab"/>
<rect x="303.7" y="77.0" width="0.85" height="25.4" fill="#3c52a6"/>
<rect x="304.5" y="76.6" width="1.05" height="25.8" fill="#b3b0b0"/>
<rect x="305.5" y="74.8" width="0.75" height="27.6" fill="#d0a8a2"/>
<rect x="306.2" y="75.0" width="1.75" height="27.4" fill="#cd9f98"/>
<rect x="307.9" y="78.6" width="1.05" height="23.8" fill="#d4b0ab"/>
<rect x="308.9" y="82.0" width="1.05" height="20.4" fill="#d4b0ab"/>
<rect x="309.9" y="85.7" width="1.75" height="0.6" fill="#c4c0c0"/>
<rect x="309.9" y="86.3" width="1.75" height="5.4" fill="#c53a44"/>
<rect x="309.9" y="91.7" width="1.75" height="10.7" fill="#c6c2c2"/>
<rect x="311.6" y="87.7" width="0.75" height="0.4" fill="#b7b4b4"/>
<rect x="311.6" y="88.1" width="0.75" height="7.8" fill="#c53a44"/>
<rect x="311.6" y="95.9" width="0.75" height="6.5" fill="#c6c2c2"/>
<rect x="312.3" y="87.5" width="1.45" height="0.5" fill="#b3b0b0"/>
<rect x="312.3" y="88.0" width="1.45" height="14.4" fill="#e17a3c"/>
<rect x="313.7" y="88.2" width="1.45" height="0.1" fill="#adaaab"/>
<rect x="313.7" y="88.3" width="1.45" height="4.8" fill="#c53a44"/>
<rect x="313.7" y="93.1" width="1.45" height="9.3" fill="#bdb9b9"/>
<rect x="315.1" y="88.5" width="0.85" height="0.1" fill="#bdb9b9"/>
<rect x="315.1" y="88.5" width="0.85" height="8.5" fill="#5fa470"/>
<rect x="315.1" y="97.1" width="0.85" height="5.3" fill="#bdb9b9"/>
<rect x="315.9" y="88.3" width="1.25" height="0.2" fill="#bdb9b9"/>
<rect x="315.9" y="88.5" width="1.25" height="9.4" fill="#c53a44"/>
<rect x="315.9" y="97.9" width="1.25" height="4.5" fill="#5fa470"/>
<rect x="317.1" y="87.7" width="0.75" height="0.7" fill="#b7b4b4"/>
<rect x="317.1" y="88.4" width="0.75" height="14.0" fill="#85402e"/>
<rect x="317.8" y="87.0" width="1.05" height="15.4" fill="#c0bbba"/>
<rect x="318.8" y="87.4" width="1.45" height="0.4" fill="#adaaab"/>
<rect x="318.8" y="87.8" width="1.45" height="8.1" fill="#c53a44"/>
<rect x="318.8" y="95.8" width="1.45" height="6.6" fill="#bdb9b9"/>
<rect x="320.2" y="86.2" width="1.05" height="0.1" fill="#bdb9b9"/>
<rect x="320.2" y="86.3" width="1.05" height="7.9" fill="#7752ad"/>
<rect x="320.2" y="94.2" width="1.05" height="8.2" fill="#c53a44"/>
<rect x="321.2" y="86.8" width="1.05" height="0.7" fill="#bdb9b9"/>
<rect x="321.2" y="87.5" width="1.05" height="8.6" fill="#c53a44"/>
<rect x="321.2" y="96.1" width="1.05" height="6.3" fill="#bdb9b9"/>
<rect x="322.2" y="85.7" width="0.85" height="16.7" fill="#adaaab"/>
<rect x="323.0" y="84.9" width="1.05" height="0.2" fill="#adaaab"/>
<rect x="323.0" y="85.2" width="1.05" height="11.3" fill="#7752ad"/>
<rect x="323.0" y="96.4" width="1.05" height="6.0" fill="#c53a44"/>
<rect x="324.0" y="86.7" width="1.45" height="15.7" fill="#adaaab"/>
<rect x="325.4" y="86.6" width="1.25" height="0.4" fill="#c4c0c0"/>
<rect x="325.4" y="87.0" width="1.25" height="15.4" fill="#c53a44"/>
<rect x="326.6" y="86.9" width="1.45" height="0.1" fill="#c4c0c0"/>
<rect x="326.6" y="87.0" width="1.45" height="15.4" fill="#85402e"/>
<rect x="328.0" y="87.1" width="0.85" height="0.3" fill="#c4c0c0"/>
<rect x="328.0" y="87.5" width="0.85" height="14.9" fill="#85402e"/>
<rect x="328.8" y="86.8" width="1.25" height="0.6" fill="#c0bbba"/>
<rect x="328.8" y="87.4" width="1.25" height="10.4" fill="#27288f"/>
<rect x="328.8" y="97.8" width="1.25" height="4.6" fill="#85402e"/>
<rect x="330.0" y="86.7" width="1.75" height="0.5" fill="#b3b0b0"/>
<rect x="330.0" y="87.2" width="1.75" height="8.2" fill="#7752ad"/>
<rect x="330.0" y="95.4" width="1.75" height="7.0" fill="#5fa470"/>
<rect x="331.7" y="87.4" width="0.85" height="0.0" fill="#b7b4b4"/>
<rect x="331.7" y="87.4" width="0.85" height="9.1" fill="#e17a3c"/>
<rect x="331.7" y="96.5" width="0.85" height="5.9" fill="#d0a8a2"/>
<rect x="332.5" y="86.6" width="1.75" height="0.7" fill="#c0bbba"/>
<rect x="332.5" y="87.3" width="1.75" height="9.3" fill="#5fa470"/>
<rect x="332.5" y="96.7" width="1.75" height="5.7" fill="#d0a8a2"/>
<rect x="334.2" y="87.3" width="1.25" height="0.3" fill="#c0bbba"/>
<rect x="334.2" y="87.6" width="1.25" height="9.1" fill="#c53a44"/>
<rect x="334.2" y="96.7" width="1.25" height="5.7" fill="#27288f"/>
<rect x="335.4" y="88.3" width="1.45" height="14.1" fill="#c69e9b"/>
<rect x="336.8" y="88.8" width="1.05" height="0.5" fill="#b7b4b4"/>
<rect x="336.8" y="89.3" width="1.05" height="8.2" fill="#c53a44"/>
<rect x="336.8" y="97.5" width="1.05" height="4.9" fill="#c53a44"/>
<rect x="337.8" y="88.1" width="1.75" height="0.5" fill="#c0bbba"/>
<rect x="337.8" y="88.6" width="1.75" height="5.3" fill="#e17a3c"/>
<rect x="337.8" y="93.9" width="1.75" height="8.5" fill="#3c52a6"/>
<rect x="339.5" y="88.3" width="0.85" height="14.1" fill="#d4b0ab"/>
<rect x="340.3" y="88.8" width="1.25" height="0.5" fill="#bdb9b9"/>
<rect x="340.3" y="89.2" width="1.25" height="13.2" fill="#c53a44"/>
<rect x="341.5" y="88.6" width="1.05" height="13.8" fill="#bdb9b9"/>
<rect x="342.5" y="88.6" width="0.85" height="13.8" fill="#c0bbba"/>
<rect x="343.3" y="88.4" width="0.75" height="14.0" fill="#c69e9b"/>
<rect x="344.0" y="89.9" width="1.25" height="0.7" fill="#b7b4b4"/>
<rect x="344.0" y="90.6" width="1.25" height="11.8" fill="#e17a3c"/>
<rect x="345.2" y="94.1" width="1.75" height="8.3" fill="#d0a8a2"/>
<rect x="346.9" y="94.9" width="1.05" height="4.9" fill="#c53a44"/>
<rect x="346.9" y="99.8" width="1.05" height="2.6" fill="#c3b6e0"/>
<rect x="347.9" y="95.2" width="1.05" height="7.2" fill="#3c52a6"/>
<rect x="348.9" y="95.1" width="1.45" height="7.3" fill="#d0a8a2"/>
<rect x="350.3" y="95.1" width="1.05" height="7.3" fill="#c53a44"/>
<rect x="351.3" y="95.2" width="1.25" height="7.2" fill="#c53a44"/>
<rect x="352.5" y="95.0" width="1.45" height="7.4" fill="#c4c0c0"/>
<rect x="353.9" y="94.8" width="1.05" height="7.6" fill="#c53a44"/>
<rect x="354.9" y="95.6" width="1.05" height="6.8" fill="#c3b6e0"/>
<rect x="355.9" y="94.9" width="0.75" height="4.0" fill="#c53a44"/>
<rect x="355.9" y="98.9" width="0.75" height="3.5" fill="#3c52a6"/>
<rect x="356.6" y="95.6" width="1.05" height="6.8" fill="#d4b0ab"/>
<rect x="357.6" y="95.1" width="1.05" height="7.3" fill="#c69e9b"/>
<rect x="358.6" y="95.0" width="1.05" height="7.4" fill="#c53a44"/>
<rect x="359.6" y="95.3" width="0.75" height="2.3" fill="#dcaea6"/>
<rect x="359.6" y="97.7" width="0.75" height="4.7" fill="#bdb9b9"/>
<rect x="360.3" y="95.7" width="1.25" height="6.7" fill="#c53a44"/>
<rect x="361.5" y="95.8" width="0.75" height="2.8" fill="#c53a44"/>
<rect x="361.5" y="98.6" width="0.75" height="3.8" fill="#d0a8a2"/>
<rect x="362.2" y="95.3" width="0.85" height="4.1" fill="#c53a44"/>
<rect x="362.2" y="99.5" width="0.85" height="2.9" fill="#c53a44"/>
<rect x="363.0" y="95.8" width="1.25" height="6.6" fill="#c53a44"/>
<rect x="364.2" y="95.0" width="0.85" height="7.4" fill="#e0b055"/>
<rect x="365.0" y="95.1" width="0.85" height="7.3" fill="#c69e9b"/>
<rect x="365.8" y="95.0" width="1.05" height="7.4" fill="#c53a44"/>
<rect x="366.8" y="95.8" width="1.45" height="4.5" fill="#e0b055"/>
<rect x="366.8" y="100.4" width="1.45" height="2.0" fill="#5fa470"/>
<rect x="368.2" y="95.9" width="1.05" height="4.3" fill="#3c52a6"/>
<rect x="368.2" y="100.2" width="1.05" height="2.2" fill="#7752ad"/>
<rect x="369.2" y="95.8" width="0.75" height="6.6" fill="#c53a44"/>
<rect x="369.9" y="95.7" width="1.05" height="3.4" fill="#c53a44"/>
<rect x="369.9" y="99.1" width="1.05" height="3.3" fill="#bdb9b9"/>
<rect x="370.9" y="95.3" width="0.85" height="7.1" fill="#b7b4b4"/>
<rect x="371.7" y="95.2" width="0.85" height="7.2" fill="#e0b055"/>
<rect x="372.5" y="95.7" width="0.85" height="3.4" fill="#c53a44"/>
<rect x="372.5" y="99.0" width="0.85" height="3.4" fill="#dcaea6"/>
<rect x="373.3" y="95.1" width="1.05" height="7.3" fill="#cd9f98"/>
<rect x="374.3" y="95.2" width="1.25" height="7.2" fill="#adaaab"/>
<rect x="375.5" y="95.5" width="1.45" height="6.9" fill="#3c52a6"/>
<rect x="376.9" y="95.3" width="1.05" height="7.1" fill="#e0b055"/>
<rect x="377.9" y="95.4" width="0.75" height="7.0" fill="#c53a44"/>
<rect x="378.6" y="95.1" width="0.85" height="3.9" fill="#7752ad"/>
<rect x="378.6" y="99.0" width="0.85" height="3.4" fill="#7752ad"/>
<rect x="379.4" y="95.3" width="0.75" height="2.8" fill="#5fa470"/>
<rect x="379.4" y="98.1" width="0.75" height="4.3" fill="#7752ad"/>
<rect x="380.1" y="95.9" width="1.75" height="6.5" fill="#c3b6e0"/>
<rect x="381.8" y="95.9" width="1.75" height="6.5" fill="#c53a44"/>
<rect x="383.5" y="95.5" width="1.05" height="2.7" fill="#e17a3c"/>
<rect x="383.5" y="98.2" width="1.05" height="4.2" fill="#d0a8a2"/>
<rect x="384.5" y="95.2" width="0.85" height="7.2" fill="#e17a3c"/>
<rect x="385.3" y="95.1" width="0.75" height="3.9" fill="#27288f"/>
<rect x="385.3" y="99.0" width="0.75" height="3.4" fill="#dcaea6"/>
<rect x="386.0" y="95.2" width="1.25" height="2.9" fill="#7752ad"/>
<rect x="386.0" y="98.2" width="1.25" height="4.2" fill="#27288f"/>
<rect x="387.2" y="95.5" width="1.05" height="2.4" fill="#27288f"/>
<rect x="387.2" y="98.0" width="1.05" height="4.4" fill="#e17a3c"/>
<rect x="388.2" y="95.2" width="1.25" height="7.2" fill="#c3b6e0"/>
<rect x="389.4" y="95.2" width="1.05" height="7.2" fill="#3c52a6"/>
<rect x="390.4" y="95.6" width="1.05" height="6.8" fill="#c53a44"/>
<rect x="391.4" y="95.8" width="0.75" height="6.6" fill="#27288f"/>
<rect x="392.1" y="95.9" width="1.05" height="6.5" fill="#5fa470"/>
<rect x="393.1" y="95.9" width="1.05" height="6.5" fill="#c0bbba"/>
<rect x="394.1" y="96.1" width="0.85" height="6.3" fill="#27288f"/>
<rect x="394.9" y="95.1" width="1.45" height="7.3" fill="#cd9f98"/>
<rect x="396.3" y="95.4" width="0.75" height="3.2" fill="#c3b6e0"/>
<rect x="396.3" y="98.6" width="0.75" height="3.8" fill="#e17a3c"/>
<rect x="397.0" y="95.7" width="1.05" height="6.7" fill="#3c52a6"/>
<rect x="398.0" y="96.0" width="0.75" height="6.4" fill="#3c52a6"/>
<rect x="398.7" y="95.7" width="1.45" height="6.7" fill="#c3b6e0"/>
<rect x="400.1" y="95.1" width="1.25" height="2.7" fill="#c53a44"/>
<rect x="400.1" y="97.8" width="1.25" height="4.6" fill="#7752ad"/>
<rect x="401.3" y="95.7" width="0.75" height="6.7" fill="#e17a3c"/>
<rect x="402.0" y="95.7" width="1.05" height="6.7" fill="#7752ad"/>
<rect x="403.0" y="96.1" width="1.05" height="6.3" fill="#27288f"/>
<rect x="404.0" y="95.7" width="1.45" height="6.7" fill="#e17a3c"/>
<rect x="405.4" y="95.5" width="1.45" height="6.9" fill="#7752ad"/>
<rect x="406.8" y="95.7" width="1.05" height="3.4" fill="#27288f"/>
<rect x="406.8" y="99.1" width="1.05" height="3.3" fill="#27288f"/>
<rect x="407.8" y="96.1" width="1.05" height="2.7" fill="#3c52a6"/>
<rect x="407.8" y="98.8" width="1.05" height="3.6" fill="#d0a8a2"/>
<rect x="408.8" y="95.6" width="1.05" height="6.8" fill="#5fa470"/>
<rect x="409.8" y="95.1" width="1.75" height="7.3" fill="#e17a3c"/>
<rect x="411.5" y="95.2" width="1.45" height="7.2" fill="#7752ad"/>
<rect x="412.9" y="96.1" width="0.75" height="6.3" fill="#c3b6e0"/>
<rect x="413.6" y="97.4" width="1.05" height="5.0" fill="#c3b6e0"/>
<rect x="414.6" y="98.7" width="1.75" height="3.7" fill="#85402e"/>
<rect x="416.3" y="100.4" width="1.75" height="2.0" fill="#e17a3c"/>
<rect x="418.0" y="99.9" width="1.45" height="2.5" fill="#85402e"/>
<rect x="419.4" y="99.8" width="1.25" height="2.6" fill="#c53a44"/>
<rect x="420.6" y="100.3" width="1.75" height="2.1" fill="#e17a3c"/>
<rect x="422.3" y="98.9" width="1.05" height="3.5" fill="#85402e"/>
<rect x="423.3" y="97.9" width="1.25" height="4.5" fill="#85402e"/>
<rect x="424.5" y="97.3" width="1.75" height="5.1" fill="#85402e"/>
<rect x="426.2" y="94.4" width="1.75" height="3.4" fill="#e17a3c"/>
<rect x="426.2" y="97.9" width="1.75" height="4.5" fill="#d0a8a2"/>
<rect x="427.9" y="92.4" width="1.75" height="10.0" fill="#c69e9b"/>
<rect x="429.6" y="91.1" width="0.75" height="11.3" fill="#d4b0ab"/>
<rect x="430.3" y="91.3" width="1.25" height="0.9" fill="#c0bbba"/>
<rect x="430.3" y="92.2" width="1.25" height="10.2" fill="#3c52a6"/>
<rect x="431.5" y="90.4" width="1.05" height="0.5" fill="#bdb9b9"/>
<rect x="431.5" y="90.9" width="1.05" height="11.5" fill="#e0b055"/>
<rect x="432.5" y="89.7" width="1.25" height="0.5" fill="#c0bbba"/>
<rect x="432.5" y="90.2" width="1.25" height="5.7" fill="#5fa470"/>
<rect x="432.5" y="95.9" width="1.25" height="6.5" fill="#e0b055"/>
<rect x="433.7" y="88.6" width="1.05" height="0.9" fill="#c0bbba"/>
<rect x="433.7" y="89.5" width="1.05" height="12.9" fill="#e0b055"/>
<rect x="434.7" y="88.1" width="0.75" height="0.9" fill="#c0bbba"/>
<rect x="434.7" y="89.0" width="0.75" height="5.6" fill="#c53a44"/>
<rect x="434.7" y="94.6" width="0.75" height="7.8" fill="#76a4d2"/>
<rect x="435.4" y="88.6" width="1.05" height="0.8" fill="#b3b0b0"/>
<rect x="435.4" y="89.4" width="1.05" height="13.0" fill="#3c52a6"/>
<rect x="436.4" y="87.9" width="1.75" height="0.2" fill="#adaaab"/>
<rect x="436.4" y="88.0" width="1.75" height="14.4" fill="#e17a3c"/>
<rect x="438.1" y="87.3" width="0.75" height="0.6" fill="#b7b4b4"/>
<rect x="438.1" y="87.9" width="0.75" height="8.5" fill="#e17a3c"/>
<rect x="438.1" y="96.4" width="0.75" height="6.0" fill="#e17a3c"/>
<rect x="438.8" y="86.6" width="1.25" height="0.8" fill="#adaaab"/>
<rect x="438.8" y="87.4" width="1.25" height="9.1" fill="#5fa470"/>
<rect x="438.8" y="96.5" width="1.25" height="5.9" fill="#e0b055"/>
<rect x="440.0" y="86.6" width="1.25" height="0.5" fill="#c0bbba"/>
<rect x="440.0" y="87.1" width="1.25" height="5.5" fill="#7752ad"/>
<rect x="440.0" y="92.6" width="1.25" height="9.8" fill="#c53a44"/>
<rect x="441.2" y="87.1" width="1.25" height="15.3" fill="#b3b0b0"/>
<rect x="442.4" y="86.7" width="1.25" height="0.4" fill="#adaaab"/>
<rect x="442.4" y="87.1" width="1.25" height="6.6" fill="#c53a44"/>
<rect x="442.4" y="93.7" width="1.25" height="8.7" fill="#bdb9b9"/>
<rect x="443.6" y="86.3" width="1.45" height="0.0" fill="#c0bbba"/>
<rect x="443.6" y="86.4" width="1.45" height="8.8" fill="#5fa470"/>
<rect x="443.6" y="95.2" width="1.45" height="7.2" fill="#e0b055"/>
<rect x="445.0" y="86.1" width="0.75" height="0.5" fill="#b7b4b4"/>
<rect x="445.0" y="86.6" width="0.75" height="6.1" fill="#7752ad"/>
<rect x="445.0" y="92.7" width="0.75" height="9.7" fill="#e0b055"/>
<rect x="445.7" y="86.9" width="0.85" height="0.3" fill="#b7b4b4"/>
<rect x="445.7" y="87.2" width="0.85" height="10.4" fill="#76a4d2"/>
<rect x="445.7" y="97.6" width="0.85" height="4.8" fill="#c53a44"/>
<rect x="446.5" y="86.9" width="1.05" height="15.5" fill="#adaaab"/>
<rect x="447.5" y="86.5" width="1.45" height="0.4" fill="#bdb9b9"/>
<rect x="447.5" y="86.9" width="1.45" height="15.5" fill="#c53a44"/>
<rect x="448.9" y="86.0" width="0.85" height="16.4" fill="#d0a8a2"/>
<rect x="449.7" y="86.4" width="1.05" height="0.3" fill="#c4c0c0"/>
<rect x="449.7" y="86.7" width="1.05" height="5.5" fill="#76a4d2"/>
<rect x="449.7" y="92.2" width="1.05" height="10.2" fill="#e17a3c"/>
<rect x="450.7" y="86.9" width="1.75" height="0.3" fill="#c4c0c0"/>
<rect x="450.7" y="87.3" width="1.75" height="8.6" fill="#3c52a6"/>
<rect x="450.7" y="95.8" width="1.75" height="6.6" fill="#e17a3c"/>
<rect x="452.4" y="86.8" width="1.05" height="15.6" fill="#cd9f98"/>
<rect x="453.4" y="86.6" width="1.05" height="0.5" fill="#b3b0b0"/>
<rect x="453.4" y="87.1" width="1.05" height="9.0" fill="#3c52a6"/>
<rect x="453.4" y="96.1" width="1.05" height="6.3" fill="#3c52a6"/>
<rect x="454.4" y="86.7" width="1.05" height="0.3" fill="#b3b0b0"/>
<rect x="454.4" y="86.9" width="1.05" height="5.5" fill="#3c52a6"/>
<rect x="454.4" y="92.4" width="1.05" height="10.0" fill="#5fa470"/>
<rect x="455.4" y="87.1" width="1.45" height="0.4" fill="#c0bbba"/>
<rect x="455.4" y="87.5" width="1.45" height="5.7" fill="#7752ad"/>
<rect x="455.4" y="93.2" width="1.45" height="9.2" fill="#c53a44"/>
<rect x="456.8" y="86.9" width="1.75" height="0.1" fill="#adaaab"/>
<rect x="456.8" y="86.9" width="1.75" height="15.5" fill="#76a4d2"/>
<rect x="458.5" y="86.1" width="1.05" height="0.1" fill="#adaaab"/>
<rect x="458.5" y="86.3" width="1.05" height="10.3" fill="#e17a3c"/>
<rect x="458.5" y="96.6" width="1.05" height="5.8" fill="#e0b055"/>
<rect x="459.5" y="86.3" width="1.05" height="0.1" fill="#c0bbba"/>
<rect x="459.5" y="86.4" width="1.05" height="16.0" fill="#76a4d2"/>
<rect x="460.5" y="86.2" width="0.85" height="0.2" fill="#adaaab"/>
<rect x="460.5" y="86.4" width="0.85" height="10.2" fill="#e17a3c"/>
<rect x="460.5" y="96.6" width="0.85" height="5.8" fill="#3c52a6"/>
<rect x="461.3" y="87.0" width="1.05" height="0.8" fill="#c4c0c0"/>
<rect x="461.3" y="87.8" width="1.05" height="9.1" fill="#e17a3c"/>
<rect x="461.3" y="96.8" width="1.05" height="5.6" fill="#3c52a6"/>
<rect x="462.3" y="85.9" width="1.45" height="0.6" fill="#b3b0b0"/>
<rect x="462.3" y="86.5" width="1.45" height="15.9" fill="#5fa470"/>
<rect x="463.7" y="85.1" width="1.05" height="0.2" fill="#c0bbba"/>
<rect x="463.7" y="85.3" width="1.05" height="17.1" fill="#e17a3c"/>
<rect x="464.7" y="85.1" width="1.45" height="0.5" fill="#c4c0c0"/>
<rect x="464.7" y="85.6" width="1.45" height="8.7" fill="#3c52a6"/>
<rect x="464.7" y="94.4" width="1.45" height="8.0" fill="#7752ad"/>
<rect x="466.1" y="85.2" width="1.45" height="17.2" fill="#c69e9b"/>
<rect x="467.5" y="85.6" width="1.45" height="0.6" fill="#bdb9b9"/>
<rect x="467.5" y="86.2" width="1.45" height="9.1" fill="#5fa470"/>
<rect x="467.5" y="95.3" width="1.45" height="7.1" fill="#bdb9b9"/>
<rect x="468.9" y="86.5" width="0.75" height="0.6" fill="#adaaab"/>
<rect x="468.9" y="87.2" width="0.75" height="5.8" fill="#7752ad"/>
<rect x="468.9" y="93.0" width="0.75" height="9.4" fill="#bdb9b9"/>
<rect x="469.6" y="86.8" width="1.05" height="15.6" fill="#b7b4b4"/>
<rect x="470.6" y="87.3" width="1.45" height="15.1" fill="#d4b0ab"/>
<rect x="472.0" y="87.6" width="1.05" height="0.5" fill="#adaaab"/>
<rect x="472.0" y="88.1" width="1.05" height="14.3" fill="#5fa470"/>
<rect x="473.0" y="87.5" width="1.25" height="0.4" fill="#b3b0b0"/>
<rect x="473.0" y="87.9" width="1.25" height="14.5" fill="#3c52a6"/>
<rect x="474.2" y="87.8" width="0.85" height="0.7" fill="#c0bbba"/>
<rect x="474.2" y="88.6" width="0.85" height="5.5" fill="#e0b055"/>
<rect x="474.2" y="94.0" width="0.85" height="8.4" fill="#bdb9b9"/>
<rect x="475.0" y="88.5" width="1.05" height="13.9" fill="#b7b4b4"/>
<rect x="476.0" y="89.1" width="0.75" height="0.1" fill="#adaaab"/>
<rect x="476.0" y="89.2" width="0.75" height="13.2" fill="#c53a44"/>
<rect x="476.7" y="90.0" width="1.45" height="0.4" fill="#c4c0c0"/>
<rect x="476.7" y="90.4" width="1.45" height="12.0" fill="#76a4d2"/>
<rect x="478.1" y="91.5" width="0.85" height="10.9" fill="#c4c0c0"/>
<rect x="478.9" y="92.5" width="1.45" height="0.7" fill="#adaaab"/>
<rect x="478.9" y="93.2" width="1.45" height="5.8" fill="#c53a44"/>
<rect x="478.9" y="99.1" width="1.45" height="3.3" fill="#d0a8a2"/>
<rect x="480.3" y="93.6" width="1.05" height="8.8" fill="#c4c0c0"/>
<rect x="481.3" y="93.6" width="0.75" height="8.8" fill="#d0a8a2"/>
<rect x="482.0" y="93.9" width="1.05" height="8.5" fill="#c4c0c0"/>
<rect x="483.0" y="94.8" width="1.05" height="7.6" fill="#b7b4b4"/>
<rect x="484.0" y="94.7" width="1.05" height="7.7" fill="#d0a8a2"/>
<rect x="485.0" y="94.8" width="0.75" height="5.3" fill="#85402e"/>
<rect x="485.0" y="100.1" width="0.75" height="2.3" fill="#bdb9b9"/>
<rect x="485.7" y="96.3" width="1.25" height="6.1" fill="#76a4d2"/>
<rect x="486.9" y="97.1" width="1.75" height="5.3" fill="#bdb9b9"/>
<rect x="488.6" y="97.8" width="1.45" height="4.6" fill="#85402e"/>
<rect x="490.0" y="98.4" width="1.45" height="4.0" fill="#bdb9b9"/>
<rect x="491.4" y="99.2" width="0.75" height="3.2" fill="#7c2336"/>
<rect x="492.1" y="99.1" width="1.45" height="3.3" fill="#c53a44"/>
<rect x="493.5" y="100.0" width="1.45" height="2.4" fill="#7c2336"/>
<rect x="494.9" y="99.8" width="1.75" height="2.6" fill="#7c2336"/>
<rect x="496.6" y="100.4" width="1.75" height="2.0" fill="#7c2336"/>
<rect x="498.3" y="100.6" width="1.45" height="1.8" fill="#7c2336"/>
<rect x="499.7" y="100.5" width="0.85" height="1.9" fill="#7c2336"/>
<rect x="500.5" y="101.0" width="1.25" height="1.4" fill="#cd9f98"/>
<rect x="501.7" y="100.7" width="0.85" height="1.7" fill="#7c2336"/>
<rect x="502.5" y="101.3" width="1.75" height="1.1" fill="#c53a44"/>
<rect x="504.2" y="101.7" width="1.75" height="0.7" fill="#7c2336"/>
<rect x="505.9" y="101.9" width="0.75" height="0.5" fill="#7c2336"/>
<rect x="506.6" y="101.3" width="0.45" height="1.1" fill="#7c2336"/>
<rect x="44.0" y="100.6" width="463.0" height="2.4" fill="#28306a" opacity="0.28"/>
</g></g>
<rect x="39" y="69.40" width="472.7" height="1.3" fill="#218b52"/>
<text x="28.6" y="73.3" font-size="7.3" fill="#1a1a1a" stroke="#1a1a1a" stroke-width="0.2">x4</text>
<rect x="39" y="78.10" width="472.7" height="1.3" fill="#218b52"/>
<text x="28.6" y="82.4" font-size="7.3" fill="#1a1a1a" stroke="#1a1a1a" stroke-width="0.2">x3</text>
<rect x="39" y="85.95" width="472.7" height="1.3" fill="#218b52"/>
<text x="28.6" y="90.6" font-size="7.3" fill="#1a1a1a" stroke="#1a1a1a" stroke-width="0.2">x2</text>
<rect x="39" y="94.10" width="472.7" height="1.3" fill="#218b52"/>
<text x="28.6" y="99.1" font-size="7.3" fill="#1a1a1a" stroke="#1a1a1a" stroke-width="0.2">x1</text>
<text x="45.8" y="71.3" font-size="3.3" fill="#10301c" stroke="#10301c" stroke-width="0.16">[0 - 41]</text>
<line x1="77.3" y1="107.1" x2="224" y2="107.1" stroke="#9491cf" stroke-width="1"/>
<rect x="80.5" y="106.55" width="1.2" height="1" fill="#7b77c2"/>
<rect x="85.6" y="106.55" width="1.2" height="1" fill="#7b77c2"/>
<rect x="90.7" y="106.55" width="1.2" height="1" fill="#7b77c2"/>
<rect x="95.8" y="106.55" width="1.2" height="1" fill="#7b77c2"/>
<rect x="100.9" y="106.55" width="1.2" height="1" fill="#7b77c2"/>
<rect x="106.0" y="106.55" width="1.2" height="1" fill="#7b77c2"/>
<rect x="111.1" y="106.55" width="1.2" height="1" fill="#7b77c2"/>
<rect x="116.2" y="106.55" width="1.2" height="1" fill="#7b77c2"/>
<rect x="121.3" y="106.55" width="1.2" height="1" fill="#7b77c2"/>
<rect x="126.4" y="106.55" width="1.2" height="1" fill="#7b77c2"/>
<rect x="131.5" y="106.55" width="1.2" height="1" fill="#7b77c2"/>
<rect x="136.6" y="106.55" width="1.2" height="1" fill="#7b77c2"/>
<rect x="141.7" y="106.55" width="1.2" height="1" fill="#7b77c2"/>
<rect x="146.8" y="106.55" width="1.2" height="1" fill="#7b77c2"/>
<rect x="151.9" y="106.55" width="1.2" height="1" fill="#7b77c2"/>
<rect x="157.0" y="106.55" width="1.2" height="1" fill="#7b77c2"/>
<rect x="162.1" y="106.55" width="1.2" height="1" fill="#7b77c2"/>
<rect x="167.2" y="106.55" width="1.2" height="1" fill="#7b77c2"/>
<rect x="172.3" y="106.55" width="1.2" height="1" fill="#7b77c2"/>
<rect x="177.4" y="106.55" width="1.2" height="1" fill="#7b77c2"/>
<rect x="182.5" y="106.55" width="1.2" height="1" fill="#7b77c2"/>
<rect x="187.6" y="106.55" width="1.2" height="1" fill="#7b77c2"/>
<rect x="192.7" y="106.55" width="1.2" height="1" fill="#7b77c2"/>
<rect x="197.8" y="106.55" width="1.2" height="1" fill="#7b77c2"/>
<rect x="202.9" y="106.55" width="1.2" height="1" fill="#7b77c2"/>
<rect x="208.0" y="106.55" width="1.2" height="1" fill="#7b77c2"/>
<rect x="213.1" y="106.55" width="1.2" height="1" fill="#7b77c2"/>
<rect x="218.2" y="106.55" width="1.2" height="1" fill="#7b77c2"/>
<rect x="76.7" y="104.80" width="1.2" height="4.6" fill="#2b2383"/>
<rect x="107.9" y="104.80" width="1.2" height="4.6" fill="#2b2383"/>
<rect x="123.2" y="104.80" width="1.2" height="4.6" fill="#2b2383"/>
<rect x="149.8" y="104.80" width="2.8" height="4.6" fill="#2b2383"/>
<rect x="155.4" y="104.80" width="1.2" height="4.6" fill="#2b2383"/>
<rect x="163.6" y="104.80" width="1.2" height="4.6" fill="#2b2383"/>
<rect x="190.6" y="104.80" width="1.2" height="4.6" fill="#2b2383"/>
<rect x="203.1" y="104.80" width="1.2" height="4.6" fill="#2b2383"/>
<path d="M221 104.9 h1.8 l2.6 2.2 l-2.6 2.2 h-1.8z" fill="#1c1670"/>
<line x1="245.4" y1="107.1" x2="303.2" y2="107.1" stroke="#9491cf" stroke-width="1"/>
<rect x="248.6" y="106.55" width="1.2" height="1" fill="#7b77c2"/>
<rect x="253.7" y="106.55" width="1.2" height="1" fill="#7b77c2"/>
<rect x="258.8" y="106.55" width="1.2" height="1" fill="#7b77c2"/>
<rect x="263.9" y="106.55" width="1.2" height="1" fill="#7b77c2"/>
<rect x="269.0" y="106.55" width="1.2" height="1" fill="#7b77c2"/>
<rect x="274.1" y="106.55" width="1.2" height="1" fill="#7b77c2"/>
<rect x="279.2" y="106.55" width="1.2" height="1" fill="#7b77c2"/>
<rect x="284.3" y="106.55" width="1.2" height="1" fill="#7b77c2"/>
<rect x="289.4" y="106.55" width="1.2" height="1" fill="#7b77c2"/>
<rect x="294.5" y="106.55" width="1.2" height="1" fill="#7b77c2"/>
<rect x="299.6" y="106.55" width="1.2" height="1" fill="#7b77c2"/>
<rect x="245.0" y="105.75" width="1.2" height="2.7" fill="#2b2383"/>
<rect x="250.2" y="105.75" width="1.2" height="2.7" fill="#2b2383"/>
<rect x="268.1" y="105.75" width="0.9" height="2.7" fill="#2b2383"/>
<rect x="287.9" y="105.75" width="1.2" height="2.7" fill="#2b2383"/>
<rect x="297.9" y="105.75" width="1.2" height="2.7" fill="#2b2383"/>
<rect x="302.2" y="105.75" width="1.3" height="2.7" fill="#2b2383"/>
<line x1="306.8" y1="107.1" x2="456.7" y2="107.1" stroke="#9491cf" stroke-width="1"/>
<rect x="310.0" y="106.55" width="1.2" height="1" fill="#7b77c2"/>
<rect x="315.1" y="106.55" width="1.2" height="1" fill="#7b77c2"/>
<rect x="320.2" y="106.55" width="1.2" height="1" fill="#7b77c2"/>
<rect x="325.3" y="106.55" width="1.2" height="1" fill="#7b77c2"/>
<rect x="330.4" y="106.55" width="1.2" height="1" fill="#7b77c2"/>
<rect x="335.5" y="106.55" width="1.2" height="1" fill="#7b77c2"/>
<rect x="340.6" y="106.55" width="1.2" height="1" fill="#7b77c2"/>
<rect x="345.7" y="106.55" width="1.2" height="1" fill="#7b77c2"/>
<rect x="350.8" y="106.55" width="1.2" height="1" fill="#7b77c2"/>
<rect x="355.9" y="106.55" width="1.2" height="1" fill="#7b77c2"/>
<rect x="361.0" y="106.55" width="1.2" height="1" fill="#7b77c2"/>
<rect x="366.1" y="106.55" width="1.2" height="1" fill="#7b77c2"/>
<rect x="371.2" y="106.55" width="1.2" height="1" fill="#7b77c2"/>
<rect x="376.3" y="106.55" width="1.2" height="1" fill="#7b77c2"/>
<rect x="381.4" y="106.55" width="1.2" height="1" fill="#7b77c2"/>
<rect x="386.5" y="106.55" width="1.2" height="1" fill="#7b77c2"/>
<rect x="391.6" y="106.55" width="1.2" height="1" fill="#7b77c2"/>
<rect x="396.7" y="106.55" width="1.2" height="1" fill="#7b77c2"/>
<rect x="401.8" y="106.55" width="1.2" height="1" fill="#7b77c2"/>
<rect x="406.9" y="106.55" width="1.2" height="1" fill="#7b77c2"/>
<rect x="412.0" y="106.55" width="1.2" height="1" fill="#7b77c2"/>
<rect x="417.1" y="106.55" width="1.2" height="1" fill="#7b77c2"/>
<rect x="422.2" y="106.55" width="1.2" height="1" fill="#7b77c2"/>
<rect x="427.3" y="106.55" width="1.2" height="1" fill="#7b77c2"/>
<rect x="432.4" y="106.55" width="1.2" height="1" fill="#7b77c2"/>
<rect x="437.5" y="106.55" width="1.2" height="1" fill="#7b77c2"/>
<rect x="442.6" y="106.55" width="1.2" height="1" fill="#7b77c2"/>
<rect x="447.7" y="106.55" width="1.2" height="1" fill="#7b77c2"/>
<rect x="452.8" y="106.55" width="1.2" height="1" fill="#7b77c2"/>
<rect x="306.8" y="104.80" width="1.6" height="4.6" fill="#2b2383"/>
<rect x="327.1" y="104.80" width="1.2" height="4.6" fill="#2b2383"/>
<rect x="340.2" y="104.80" width="1.2" height="4.6" fill="#2b2383"/>
<rect x="366.3" y="104.80" width="1.2" height="4.6" fill="#2b2383"/>
<rect x="374.2" y="104.80" width="1.2" height="4.6" fill="#2b2383"/>
<rect x="379.4" y="104.80" width="1.2" height="4.6" fill="#2b2383"/>
<rect x="382.7" y="104.80" width="1.2" height="4.6" fill="#2b2383"/>
<rect x="409.8" y="104.80" width="1.2" height="4.6" fill="#2b2383"/>
<rect x="425.2" y="104.80" width="1.2" height="4.6" fill="#2b2383"/>
<rect x="456.1" y="104.80" width="1.2" height="4.6" fill="#2b2383"/>
<text x="146" y="117.1" font-size="5.65" fill="#222" stroke="#222" stroke-width="0.05">RHD</text>
<text x="262.3" y="117.1" font-size="5.65" fill="#222" stroke="#222" stroke-width="0.05">TMEM50A</text>
<text x="374.8" y="117.1" font-size="5.65" fill="#222" stroke="#222" stroke-width="0.05">RHCE</text>
<rect x="105.6" y="118.8" width="10.6" height="2.9" fill="#2a2080"/>
<rect x="108.7" y="119.9" width="4.4" height="0.7" fill="#5a52a8"/>
<rect x="207.5" y="118.8" width="14.5" height="2.9" fill="#2a2080"/>
<rect x="212.6" y="119.9" width="4.4" height="0.7" fill="#5a52a8"/>
<rect x="307" y="118.8" width="14.5" height="2.9" fill="#2a2080"/>
<rect x="312.1" y="119.9" width="4.4" height="0.7" fill="#5a52a8"/>
<rect x="418" y="118.8" width="10.3" height="2.9" fill="#2a2080"/>
<rect x="420.9" y="119.9" width="4.4" height="0.7" fill="#5a52a8"/>
<text x="96.8" y="140.6" font-size="8.05" fill="#222">ploidy on reference</text>
<rect x="78.6" y="145.8" width="1.2" height="54" fill="#222"/>
<rect x="77" y="198.4" width="382.4" height="1.6" fill="#333"/>
<rect x="76" y="148.8" width="3" height="0.8" fill="#222"/>
<text x="64.3" y="151.5" font-size="7" fill="#222">x4</text>
<rect x="76" y="160.9" width="3" height="0.8" fill="#222"/>
<text x="64.3" y="163.6" font-size="7" fill="#222">x3</text>
<rect x="76" y="173.3" width="3" height="0.8" fill="#222"/>
<text x="64.3" y="176.0" font-size="7" fill="#222">x2</text>
<rect x="76" y="185.7" width="3" height="0.8" fill="#222"/>
<text x="64.3" y="188.4" font-size="7" fill="#222">x1</text>
<polyline points="79.8,173.7 116.3,173.7 116.3,149.3 228,149.3 228,161.3 309.8,161.3 309.8,173.7 343.9,173.7 343.9,186 427.6,186 427.6,173.7 459.4,173.7" fill="none" stroke="#46a84d" stroke-width="1.25"/>
<rect x="87.8" y="205.3" width="3.9" height="4.9" fill="#93a2bd" stroke="#3f5f9e" stroke-width="0.7"/>
<text x="89.8" y="224" font-size="6.7" text-anchor="middle" fill="#2d5da3" stroke="#2d5da3" stroke-width="0.12">D1</text>
<line x1="92.0" y1="207.75" x2="94.5" y2="207.75" stroke="#5a6fa6" stroke-width="0.8"/>
<line x1="94.5" y1="207.75" x2="101.2" y2="207.75" stroke="#8a5f82" stroke-width="0.8"/>
<path d="M103.9 207.75 l-3.2 -1.5 v3z" fill="#1f3f86"/>
<rect x="104.5" y="205.3" width="3.9" height="4.9" fill="#4b96d6" stroke="#2467a8" stroke-width="0.7"/>
<text x="106.5" y="224" font-size="6.7" text-anchor="middle" fill="#2d5da3" stroke="#2d5da3" stroke-width="0.12">D2</text>
<line x1="108.7" y1="207.75" x2="111.2" y2="207.75" stroke="#5a6fa6" stroke-width="0.8"/>
<line x1="111.2" y1="207.75" x2="117.9" y2="207.75" stroke="#8a5f82" stroke-width="0.8"/>
<path d="M120.6 207.75 l-3.2 -1.5 v3z" fill="#1f3f86"/>
<rect x="121.2" y="205.3" width="3.9" height="4.9" fill="#93a2bd" stroke="#3f5f9e" stroke-width="0.7"/>
<text x="123.2" y="224" font-size="6.7" text-anchor="middle" fill="#2d5da3" stroke="#2d5da3" stroke-width="0.12">D3</text>
<line x1="125.4" y1="207.75" x2="127.9" y2="207.75" stroke="#5a6fa6" stroke-width="0.8"/>
<line x1="127.9" y1="207.75" x2="134.7" y2="207.75" stroke="#8a5f82" stroke-width="0.8"/>
<path d="M137.4 207.75 l-3.2 -1.5 v3z" fill="#1f3f86"/>
<rect x="138.0" y="205.3" width="3.9" height="4.9" fill="#93a2bd" stroke="#3f5f9e" stroke-width="0.7"/>
<text x="140.0" y="224" font-size="6.7" text-anchor="middle" fill="#2d5da3" stroke="#2d5da3" stroke-width="0.12">D4</text>
<line x1="142.2" y1="207.75" x2="144.7" y2="207.75" stroke="#5a6fa6" stroke-width="0.8"/>
<line x1="144.7" y1="207.75" x2="151.4" y2="207.75" stroke="#8a5f82" stroke-width="0.8"/>
<path d="M154.1 207.75 l-3.2 -1.5 v3z" fill="#1f3f86"/>
<rect x="154.7" y="205.3" width="3.9" height="4.9" fill="#93a2bd" stroke="#3f5f9e" stroke-width="0.7"/>
<text x="156.7" y="224" font-size="6.7" text-anchor="middle" fill="#2d5da3" stroke="#2d5da3" stroke-width="0.12">D5</text>
<line x1="158.9" y1="207.75" x2="161.4" y2="207.75" stroke="#5a6fa6" stroke-width="0.8"/>
<line x1="161.4" y1="207.75" x2="168.1" y2="207.75" stroke="#8a5f82" stroke-width="0.8"/>
<path d="M170.8 207.75 l-3.2 -1.5 v3z" fill="#1f3f86"/>
<rect x="171.4" y="205.3" width="3.9" height="4.9" fill="#93a2bd" stroke="#3f5f9e" stroke-width="0.7"/>
<text x="173.4" y="224" font-size="6.7" text-anchor="middle" fill="#2d5da3" stroke="#2d5da3" stroke-width="0.12">D6</text>
<line x1="175.6" y1="207.75" x2="178.1" y2="207.75" stroke="#5a6fa6" stroke-width="0.8"/>
<line x1="178.1" y1="207.75" x2="184.8" y2="207.75" stroke="#8a5f82" stroke-width="0.8"/>
<path d="M187.5 207.75 l-3.2 -1.5 v3z" fill="#1f3f86"/>
<rect x="188.1" y="205.3" width="3.9" height="4.9" fill="#93a2bd" stroke="#3f5f9e" stroke-width="0.7"/>
<text x="190.1" y="224" font-size="6.7" text-anchor="middle" fill="#2d5da3" stroke="#2d5da3" stroke-width="0.12">D7</text>
<line x1="192.3" y1="207.75" x2="194.8" y2="207.75" stroke="#5a6fa6" stroke-width="0.8"/>
<line x1="194.8" y1="207.75" x2="201.5" y2="207.75" stroke="#8a5f82" stroke-width="0.8"/>
<path d="M204.2 207.75 l-3.2 -1.5 v3z" fill="#1f3f86"/>
<rect x="204.8" y="205.3" width="3.9" height="4.9" fill="#93a2bd" stroke="#3f5f9e" stroke-width="0.7"/>
<text x="206.8" y="224" font-size="6.7" text-anchor="middle" fill="#2d5da3" stroke="#2d5da3" stroke-width="0.12">D8</text>
<line x1="209.0" y1="207.75" x2="211.5" y2="207.75" stroke="#5a6fa6" stroke-width="0.8"/>
<line x1="211.5" y1="207.75" x2="218.3" y2="207.75" stroke="#8a5f82" stroke-width="0.8"/>
<path d="M221.0 207.75 l-3.2 -1.5 v3z" fill="#1f3f86"/>
<rect x="221.6" y="205.3" width="3.9" height="4.9" fill="#93a2bd" stroke="#3f5f9e" stroke-width="0.7"/>
<text x="223.6" y="224" font-size="6.7" text-anchor="middle" fill="#2d5da3" stroke="#2d5da3" stroke-width="0.12">D9</text>
<line x1="225.8" y1="207.75" x2="228.3" y2="207.75" stroke="#5a6fa6" stroke-width="0.8"/>
<line x1="228.3" y1="207.75" x2="235.0" y2="207.75" stroke="#8a5f82" stroke-width="0.8"/>
<path d="M237.7 207.75 l-3.2 -1.5 v3z" fill="#1f3f86"/>
<rect x="238.3" y="205.3" width="3.9" height="4.9" fill="#f0913c" stroke="#b5651d" stroke-width="0.7"/>
<text x="240.3" y="224" font-size="6.7" text-anchor="middle" fill="#2d5da3" stroke="#2d5da3" stroke-width="0.12">D10</text>
<line x1="243" y1="207.75" x2="298.7" y2="207.75" stroke="#555" stroke-width="0.8"/>
<rect x="263.7" y="205.0" width="31.3" height="5.5" fill="#3b4352"/>
<text x="269.2" y="224" font-size="6.7" text-anchor="middle" fill="#4d5c7c" stroke="#4d5c7c" stroke-width="0.1">TMEM50A</text>
<rect x="299.0" y="205.3" width="3.9" height="4.9" fill="#f0913c" stroke="#b5651d" stroke-width="0.7"/>
<text x="301.1" y="224" font-size="6.7" text-anchor="middle" fill="#c4202f" stroke="#c4202f" stroke-width="0.12">CE10</text>
<line x1="306.2" y1="207.75" x2="315.4" y2="207.75" stroke="#cc4a5e" stroke-width="0.8"/>
<path d="M303.8 207.75 l2.9 -1.35 v2.7z" fill="#4a1228"/>
<rect x="315.7" y="205.3" width="3.9" height="4.9" fill="#f2888f" stroke="#c23a48" stroke-width="0.7"/>
<text x="317.8" y="224" font-size="6.7" text-anchor="middle" fill="#c4202f" stroke="#c4202f" stroke-width="0.12">CE9</text>
<line x1="322.9" y1="207.75" x2="332.1" y2="207.75" stroke="#cc4a5e" stroke-width="0.8"/>
<path d="M320.5 207.75 l2.9 -1.35 v2.7z" fill="#4a1228"/>
<rect x="332.4" y="205.3" width="3.9" height="4.9" fill="#f2888f" stroke="#c23a48" stroke-width="0.7"/>
<text x="334.5" y="224" font-size="6.7" text-anchor="middle" fill="#c4202f" stroke="#c4202f" stroke-width="0.12">CE8</text>
<line x1="339.6" y1="207.75" x2="348.9" y2="207.75" stroke="#cc4a5e" stroke-width="0.8"/>
<path d="M337.2 207.75 l2.9 -1.35 v2.7z" fill="#4a1228"/>
<rect x="349.2" y="205.3" width="3.9" height="4.9" fill="#f2888f" stroke="#c23a48" stroke-width="0.7"/>
<text x="351.3" y="224" font-size="6.7" text-anchor="middle" fill="#c4202f" stroke="#c4202f" stroke-width="0.12">CE7</text>
<line x1="356.4" y1="207.75" x2="365.6" y2="207.75" stroke="#cc4a5e" stroke-width="0.8"/>
<path d="M354.0 207.75 l2.9 -1.35 v2.7z" fill="#4a1228"/>
<rect x="365.9" y="205.3" width="3.9" height="4.9" fill="#f2888f" stroke="#c23a48" stroke-width="0.7"/>
<text x="368.0" y="224" font-size="6.7" text-anchor="middle" fill="#c4202f" stroke="#c4202f" stroke-width="0.12">CE6</text>
<line x1="373.1" y1="207.75" x2="382.3" y2="207.75" stroke="#cc4a5e" stroke-width="0.8"/>
<path d="M370.7 207.75 l2.9 -1.35 v2.7z" fill="#4a1228"/>
<rect x="382.6" y="205.3" width="3.9" height="4.9" fill="#f2888f" stroke="#c23a48" stroke-width="0.7"/>
<text x="384.7" y="224" font-size="6.7" text-anchor="middle" fill="#c4202f" stroke="#c4202f" stroke-width="0.12">CE5</text>
<line x1="389.8" y1="207.75" x2="399.0" y2="207.75" stroke="#cc4a5e" stroke-width="0.8"/>
<path d="M387.4 207.75 l2.9 -1.35 v2.7z" fill="#4a1228"/>
<rect x="399.3" y="205.3" width="3.9" height="4.9" fill="#f2888f" stroke="#c23a48" stroke-width="0.7"/>
<text x="401.4" y="224" font-size="6.7" text-anchor="middle" fill="#c4202f" stroke="#c4202f" stroke-width="0.12">CE4</text>
<line x1="406.5" y1="207.75" x2="415.7" y2="207.75" stroke="#cc4a5e" stroke-width="0.8"/>
<path d="M404.1 207.75 l2.9 -1.35 v2.7z" fill="#4a1228"/>
<rect x="416.0" y="205.3" width="3.9" height="4.9" fill="#f2888f" stroke="#c23a48" stroke-width="0.7"/>
<text x="418.1" y="224" font-size="6.7" text-anchor="middle" fill="#c4202f" stroke="#c4202f" stroke-width="0.12">CE3</text>
<line x1="423.2" y1="207.75" x2="432.5" y2="207.75" stroke="#cc4a5e" stroke-width="0.8"/>
<path d="M420.8 207.75 l2.9 -1.35 v2.7z" fill="#4a1228"/>
<rect x="432.8" y="205.3" width="3.9" height="4.9" fill="#3d86cf" stroke="#2467a8" stroke-width="0.7"/>
<text x="434.9" y="224" font-size="6.7" text-anchor="middle" fill="#c4202f" stroke="#c4202f" stroke-width="0.12">CE2</text>
<line x1="440.0" y1="207.75" x2="449.2" y2="207.75" stroke="#cc4a5e" stroke-width="0.8"/>
<path d="M437.6 207.75 l2.9 -1.35 v2.7z" fill="#4a1228"/>
<rect x="449.5" y="205.3" width="3.9" height="4.9" fill="#f2888f" stroke="#c23a48" stroke-width="0.7"/>
<text x="451.6" y="224" font-size="6.7" text-anchor="middle" fill="#c4202f" stroke="#c4202f" stroke-width="0.12">CE1</text>
<text x="6.9" y="16.75" font-size="11.8" font-weight="bold" fill="#0a0a0a" stroke="#0a0a0a" stroke-width="0.35">A</text>
<text x="6.6" y="250.45" font-size="11.8" font-weight="bold" fill="#0a0a0a" stroke="#0a0a0a" stroke-width="0.35">B</text>
<text x="259.7" y="248.9" font-size="8.15" text-anchor="middle" fill="#1a1a1a" stroke="#1a1a1a" stroke-width="0.12">NGS data coverage depth of RH exons</text>
<rect x="57.9" y="263.7" width="1.2" height="138" fill="#222"/>
<rect x="55.2" y="400.4" width="406" height="1.5" fill="#222"/>
<text x="51.8" y="403.9" font-size="8.4" text-anchor="end" fill="#1a1a1a" stroke="#1a1a1a" stroke-width="0.18">0</text>
<rect x="55.2" y="373.83" width="3" height="0.9" fill="#222"/>
<text x="51.8" y="377.2" font-size="8.4" text-anchor="end" fill="#1a1a1a" stroke="#1a1a1a" stroke-width="0.18">350</text>
<rect x="55.2" y="347.11" width="3" height="0.9" fill="#222"/>
<text x="51.8" y="350.5" font-size="8.4" text-anchor="end" fill="#1a1a1a" stroke="#1a1a1a" stroke-width="0.18">700</text>
<rect x="55.2" y="320.39" width="3" height="0.9" fill="#222"/>
<text x="51.8" y="323.7" font-size="8.4" text-anchor="end" fill="#1a1a1a" stroke="#1a1a1a" stroke-width="0.18">1050</text>
<rect x="55.2" y="293.67" width="3" height="0.9" fill="#222"/>
<text x="51.8" y="297.0" font-size="8.4" text-anchor="end" fill="#1a1a1a" stroke="#1a1a1a" stroke-width="0.18">1400</text>
<rect x="55.2" y="266.95" width="3" height="0.9" fill="#222"/>
<text x="51.8" y="270.3" font-size="8.4" text-anchor="end" fill="#1a1a1a" stroke="#1a1a1a" stroke-width="0.18">1750</text>
<rect x="64.85" y="355.5" width="8.1" height="45.5" fill="#194e8d"/>
<rect x="68.50" y="354.6" width="0.8" height="0.9" fill="#6f6f6f"/>
<rect x="66.60" y="354.2" width="4.6" height="0.9" fill="#555"/>
<rect x="68.50" y="355.5" width="0.8" height="1.1" fill="#173f75"/>
<rect x="66.60" y="356.2" width="4.6" height="0.9" fill="#173f75"/>
<rect x="68.50" y="401.5" width="0.8" height="2.2" fill="#222"/>
<text x="68.9" y="414.5" font-size="8.3" text-anchor="middle" fill="#1a1a1a" stroke="#1a1a1a" stroke-width="0.18">D1</text>
<rect x="84.93" y="355" width="8.1" height="46.0" fill="#194e8d"/>
<rect x="88.58" y="351" width="0.8" height="4.0" fill="#6f6f6f"/>
<rect x="86.68" y="350.6" width="4.6" height="0.9" fill="#555"/>
<rect x="88.58" y="355" width="0.8" height="6.0" fill="#173f75"/>
<rect x="86.68" y="360.6" width="4.6" height="0.9" fill="#173f75"/>
<rect x="88.58" y="401.5" width="0.8" height="2.2" fill="#222"/>
<text x="89.0" y="414.5" font-size="8.3" text-anchor="middle" fill="#1a1a1a" stroke="#1a1a1a" stroke-width="0.18">D2</text>
<rect x="105.01" y="301.3" width="8.1" height="99.7" fill="#194e8d"/>
<rect x="108.66" y="287.6" width="0.8" height="13.7" fill="#6f6f6f"/>
<rect x="106.76" y="287.2" width="4.6" height="0.9" fill="#555"/>
<rect x="108.66" y="301.3" width="0.8" height="27.0" fill="#173f75"/>
<rect x="106.76" y="327.9" width="4.6" height="0.9" fill="#173f75"/>
<rect x="108.66" y="401.5" width="0.8" height="2.2" fill="#222"/>
<text x="109.1" y="414.5" font-size="8.3" text-anchor="middle" fill="#1a1a1a" stroke="#1a1a1a" stroke-width="0.18">D3</text>
<rect x="125.09" y="299" width="8.1" height="102.0" fill="#194e8d"/>
<rect x="128.74" y="254.2" width="0.8" height="44.8" fill="#6f6f6f"/>
<rect x="126.84" y="253.8" width="4.6" height="0.9" fill="#555"/>
<rect x="128.74" y="299" width="0.8" height="25.4" fill="#173f75"/>
<rect x="126.84" y="324.0" width="4.6" height="0.9" fill="#173f75"/>
<rect x="128.74" y="401.5" width="0.8" height="2.2" fill="#222"/>
<text x="129.1" y="414.5" font-size="8.3" text-anchor="middle" fill="#1a1a1a" stroke="#1a1a1a" stroke-width="0.18">D4</text>
<rect x="145.17" y="311.1" width="8.1" height="89.9" fill="#194e8d"/>
<rect x="148.82" y="277.5" width="0.8" height="33.6" fill="#6f6f6f"/>
<rect x="146.92" y="277.1" width="4.6" height="0.9" fill="#555"/>
<rect x="148.82" y="311.1" width="0.8" height="19.9" fill="#173f75"/>
<rect x="146.92" y="330.6" width="4.6" height="0.9" fill="#173f75"/>
<rect x="148.82" y="401.5" width="0.8" height="2.2" fill="#222"/>
<text x="149.2" y="414.5" font-size="8.3" text-anchor="middle" fill="#1a1a1a" stroke="#1a1a1a" stroke-width="0.18">D5</text>
<rect x="165.25" y="303.2" width="8.1" height="97.8" fill="#194e8d"/>
<rect x="168.90" y="295.2" width="0.8" height="8.0" fill="#6f6f6f"/>
<rect x="167.00" y="294.8" width="4.6" height="0.9" fill="#555"/>
<rect x="168.90" y="303.2" width="0.8" height="20.2" fill="#173f75"/>
<rect x="167.00" y="323.0" width="4.6" height="0.9" fill="#173f75"/>
<rect x="168.90" y="401.5" width="0.8" height="2.2" fill="#222"/>
<text x="169.3" y="414.5" font-size="8.3" text-anchor="middle" fill="#1a1a1a" stroke="#1a1a1a" stroke-width="0.18">D6</text>
<rect x="185.33" y="299" width="8.1" height="102.0" fill="#194e8d"/>
<rect x="188.98" y="280.6" width="0.8" height="18.4" fill="#6f6f6f"/>
<rect x="187.08" y="280.2" width="4.6" height="0.9" fill="#555"/>
<rect x="188.98" y="299" width="0.8" height="28.0" fill="#173f75"/>
<rect x="187.08" y="326.6" width="4.6" height="0.9" fill="#173f75"/>
<rect x="188.98" y="401.5" width="0.8" height="2.2" fill="#222"/>
<text x="189.4" y="414.5" font-size="8.3" text-anchor="middle" fill="#1a1a1a" stroke="#1a1a1a" stroke-width="0.18">D7</text>
<rect x="205.41" y="285.8" width="8.1" height="115.2" fill="#194e8d"/>
<rect x="209.06" y="280.5" width="0.8" height="5.3" fill="#6f6f6f"/>
<rect x="207.16" y="280.1" width="4.6" height="0.9" fill="#555"/>
<rect x="209.06" y="285.8" width="0.8" height="29.2" fill="#173f75"/>
<rect x="207.16" y="314.6" width="4.6" height="0.9" fill="#173f75"/>
<rect x="209.06" y="401.5" width="0.8" height="2.2" fill="#222"/>
<text x="209.5" y="414.5" font-size="8.3" text-anchor="middle" fill="#1a1a1a" stroke="#1a1a1a" stroke-width="0.18">D8</text>
<rect x="225.49" y="358.2" width="8.1" height="42.8" fill="#194e8d"/>
<rect x="229.14" y="340.7" width="0.8" height="17.5" fill="#6f6f6f"/>
<rect x="227.24" y="340.3" width="4.6" height="0.9" fill="#555"/>
<rect x="229.14" y="358.2" width="0.8" height="16.8" fill="#173f75"/>
<rect x="227.24" y="374.6" width="4.6" height="0.9" fill="#173f75"/>
<rect x="229.14" y="401.5" width="0.8" height="2.2" fill="#222"/>
<text x="229.5" y="414.5" font-size="8.3" text-anchor="middle" fill="#1a1a1a" stroke="#1a1a1a" stroke-width="0.18">D9</text>
<rect x="245.57" y="367.5" width="8.1" height="33.5" fill="#194e8d"/>
<rect x="249.22" y="363.9" width="0.8" height="3.6" fill="#6f6f6f"/>
<rect x="247.32" y="363.5" width="4.6" height="0.9" fill="#555"/>
<rect x="249.22" y="367.5" width="0.8" height="3.5" fill="#173f75"/>
<rect x="247.32" y="370.6" width="4.6" height="0.9" fill="#173f75"/>
<rect x="249.22" y="401.5" width="0.8" height="2.2" fill="#222"/>
<text x="249.6" y="414.5" font-size="8.3" text-anchor="middle" fill="#1a1a1a" stroke="#1a1a1a" stroke-width="0.18">D10</text>
<rect x="265.65" y="376.7" width="8.1" height="24.3" fill="#194e8d"/>
<rect x="269.30" y="375.4" width="0.8" height="1.3" fill="#6f6f6f"/>
<rect x="267.40" y="375.0" width="4.6" height="0.9" fill="#555"/>
<rect x="269.30" y="376.7" width="0.8" height="1.3" fill="#173f75"/>
<rect x="267.40" y="377.6" width="4.6" height="0.9" fill="#173f75"/>
<rect x="269.30" y="401.5" width="0.8" height="2.2" fill="#222"/>
<text x="269.7" y="414.5" font-size="8.3" text-anchor="middle" fill="#1a1a1a" stroke="#1a1a1a" stroke-width="0.18">CE10</text>
<rect x="285.73" y="382" width="8.1" height="19.0" fill="#194e8d"/>
<rect x="289.38" y="379.5" width="0.8" height="2.5" fill="#6f6f6f"/>
<rect x="287.48" y="379.1" width="4.6" height="0.9" fill="#555"/>
<rect x="289.38" y="382" width="0.8" height="2.5" fill="#173f75"/>
<rect x="287.48" y="384.1" width="4.6" height="0.9" fill="#173f75"/>
<rect x="289.38" y="401.5" width="0.8" height="2.2" fill="#222"/>
<text x="289.8" y="414.5" font-size="8.3" text-anchor="middle" fill="#1a1a1a" stroke="#1a1a1a" stroke-width="0.18">CE9</text>
<rect x="305.81" y="378.7" width="8.1" height="22.3" fill="#194e8d"/>
<rect x="309.46" y="376.7" width="0.8" height="2.0" fill="#6f6f6f"/>
<rect x="307.56" y="376.3" width="4.6" height="0.9" fill="#555"/>
<rect x="309.46" y="378.7" width="0.8" height="2.0" fill="#173f75"/>
<rect x="307.56" y="380.3" width="4.6" height="0.9" fill="#173f75"/>
<rect x="309.46" y="401.5" width="0.8" height="2.2" fill="#222"/>
<text x="309.9" y="414.5" font-size="8.3" text-anchor="middle" fill="#1a1a1a" stroke="#1a1a1a" stroke-width="0.18">CE8</text>
<rect x="325.89" y="376.2" width="8.1" height="24.8" fill="#194e8d"/>
<rect x="329.54" y="374.2" width="0.8" height="2.0" fill="#6f6f6f"/>
<rect x="327.64" y="373.8" width="4.6" height="0.9" fill="#555"/>
<rect x="329.54" y="376.2" width="0.8" height="2.0" fill="#173f75"/>
<rect x="327.64" y="377.8" width="4.6" height="0.9" fill="#173f75"/>
<rect x="329.54" y="401.5" width="0.8" height="2.2" fill="#222"/>
<text x="329.9" y="414.5" font-size="8.3" text-anchor="middle" fill="#1a1a1a" stroke="#1a1a1a" stroke-width="0.18">CE7</text>
<rect x="345.97" y="371.2" width="8.1" height="29.8" fill="#194e8d"/>
<rect x="349.62" y="368.7" width="0.8" height="2.5" fill="#6f6f6f"/>
<rect x="347.72" y="368.3" width="4.6" height="0.9" fill="#555"/>
<rect x="349.62" y="371.2" width="0.8" height="2.5" fill="#173f75"/>
<rect x="347.72" y="373.3" width="4.6" height="0.9" fill="#173f75"/>
<rect x="349.62" y="401.5" width="0.8" height="2.2" fill="#222"/>
<text x="350.0" y="414.5" font-size="8.3" text-anchor="middle" fill="#1a1a1a" stroke="#1a1a1a" stroke-width="0.18">CE6</text>
<rect x="366.05" y="375.7" width="8.1" height="25.3" fill="#194e8d"/>
<rect x="369.70" y="367.4" width="0.8" height="8.3" fill="#6f6f6f"/>
<rect x="367.80" y="367.0" width="4.6" height="0.9" fill="#555"/>
<rect x="369.70" y="375.7" width="0.8" height="8.3" fill="#173f75"/>
<rect x="367.80" y="383.6" width="4.6" height="0.9" fill="#173f75"/>
<rect x="369.70" y="401.5" width="0.8" height="2.2" fill="#222"/>
<text x="370.1" y="414.5" font-size="8.3" text-anchor="middle" fill="#1a1a1a" stroke="#1a1a1a" stroke-width="0.18">CE5</text>
<rect x="386.13" y="378.2" width="8.1" height="22.8" fill="#194e8d"/>
<rect x="389.78" y="374.3" width="0.8" height="3.9" fill="#6f6f6f"/>
<rect x="387.88" y="373.9" width="4.6" height="0.9" fill="#555"/>
<rect x="389.78" y="378.2" width="0.8" height="3.8" fill="#173f75"/>
<rect x="387.88" y="381.6" width="4.6" height="0.9" fill="#173f75"/>
<rect x="389.78" y="401.5" width="0.8" height="2.2" fill="#222"/>
<text x="390.2" y="414.5" font-size="8.3" text-anchor="middle" fill="#1a1a1a" stroke="#1a1a1a" stroke-width="0.18">CE4</text>
<rect x="406.21" y="376.8" width="8.1" height="24.2" fill="#194e8d"/>
<rect x="409.86" y="368" width="0.8" height="8.8" fill="#6f6f6f"/>
<rect x="407.96" y="367.6" width="4.6" height="0.9" fill="#555"/>
<rect x="409.86" y="376.8" width="0.8" height="8.7" fill="#173f75"/>
<rect x="407.96" y="385.1" width="4.6" height="0.9" fill="#173f75"/>
<rect x="409.86" y="401.5" width="0.8" height="2.2" fill="#222"/>
<text x="410.3" y="414.5" font-size="8.3" text-anchor="middle" fill="#1a1a1a" stroke="#1a1a1a" stroke-width="0.18">CE3</text>
<rect x="426.29" y="355.5" width="8.1" height="45.5" fill="#194e8d"/>
<rect x="429.94" y="349.5" width="0.8" height="6.0" fill="#6f6f6f"/>
<rect x="428.04" y="349.1" width="4.6" height="0.9" fill="#555"/>
<rect x="429.94" y="355.5" width="0.8" height="6.9" fill="#173f75"/>
<rect x="428.04" y="362.0" width="4.6" height="0.9" fill="#173f75"/>
<rect x="429.94" y="401.5" width="0.8" height="2.2" fill="#222"/>
<text x="430.3" y="414.5" font-size="8.3" text-anchor="middle" fill="#1a1a1a" stroke="#1a1a1a" stroke-width="0.18">CE2</text>
<rect x="446.37" y="358.3" width="8.1" height="42.7" fill="#194e8d"/>
<rect x="450.02" y="345" width="0.8" height="13.3" fill="#6f6f6f"/>
<rect x="448.12" y="344.6" width="4.6" height="0.9" fill="#555"/>
<rect x="450.02" y="358.3" width="0.8" height="8.3" fill="#173f75"/>
<rect x="448.12" y="366.2" width="4.6" height="0.9" fill="#173f75"/>
<rect x="450.02" y="401.5" width="0.8" height="2.2" fill="#222"/>
<text x="450.4" y="414.5" font-size="8.3" text-anchor="middle" fill="#1a1a1a" stroke="#1a1a1a" stroke-width="0.18">CE1</text>
<text x="0" y="0" font-size="8" text-anchor="middle" fill="#111" transform="translate(259.8 428) scale(0.8 1)" stroke="#111" stroke-width="0.3">Exon</text>
<text x="0" y="0" font-size="8" text-anchor="middle" fill="#111" transform="translate(26.3 332.7) rotate(-90) scale(0.82 1)" stroke="#111" stroke-width="0.3">Depth</text>
<rect x="0" y="0" width="520" height="0.85" fill="#484848"/>
<rect x="0" y="0" width="0.95" height="435" fill="#484848"/>
<rect x="518.75" y="0" width="1.25" height="435" fill="#424242"/>
<rect x="0" y="433.7" width="520" height="1.3" fill="#424242"/>
</svg></body></html>
